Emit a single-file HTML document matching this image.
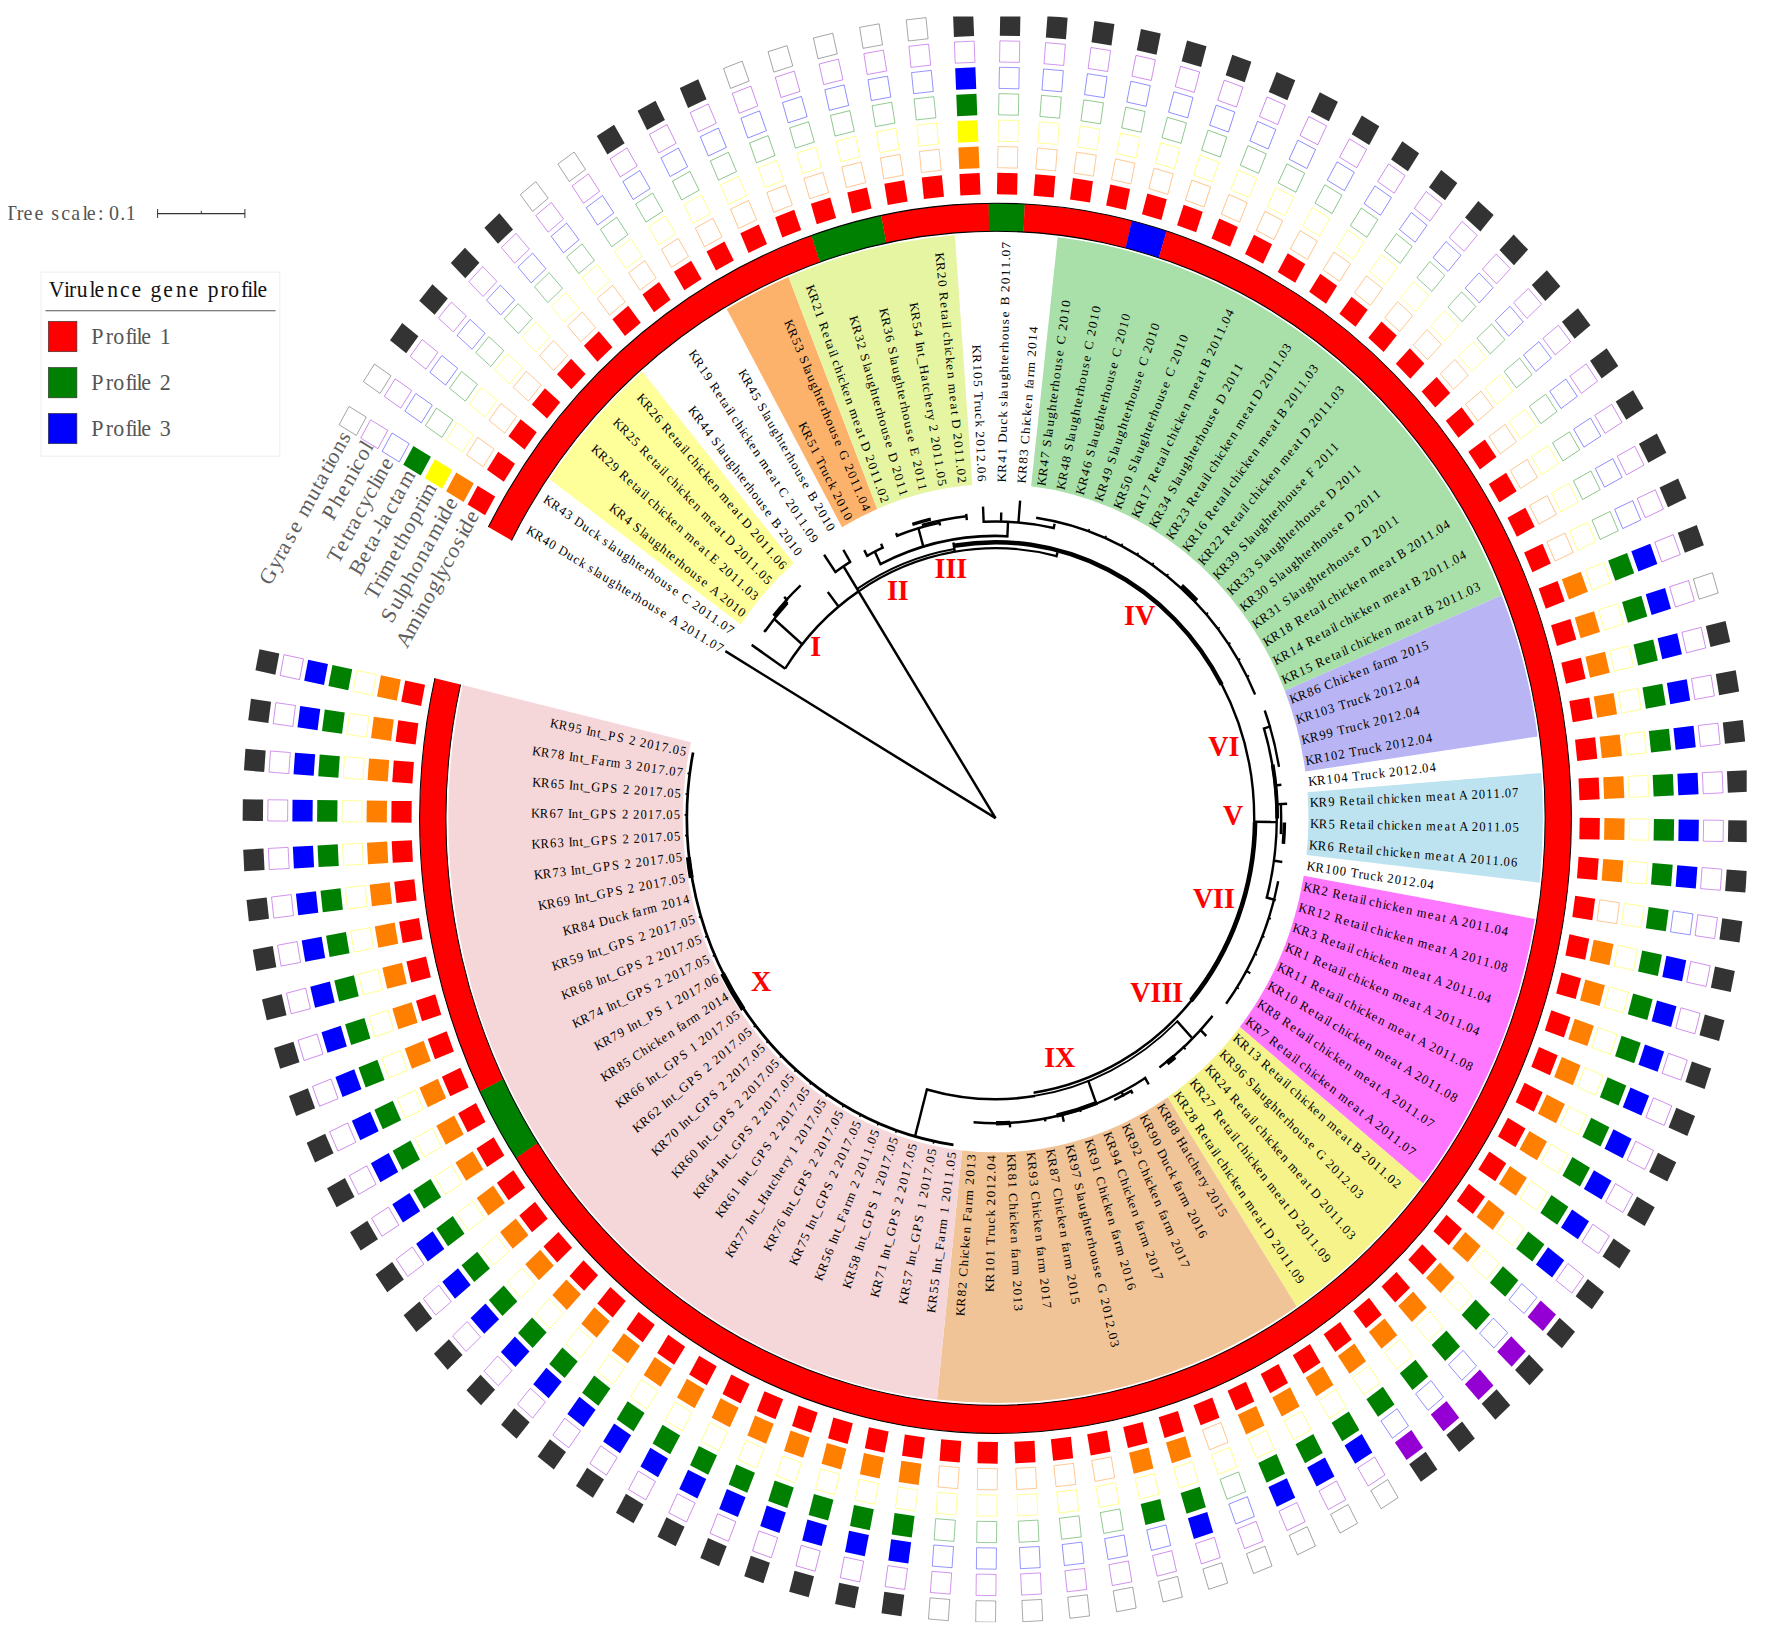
<!DOCTYPE html>
<html lang="en"><head><meta charset="utf-8"><title>Phylogenetic tree</title>
<style>html,body{margin:0;padding:0;background:#fff}body{width:1770px;height:1638px;overflow:hidden}</style></head>
<body>
<svg width="1770" height="1638" viewBox="0 0 1770 1533.56" preserveAspectRatio="none" style="display:block">
<rect width="1770" height="1533.56" fill="#fff"/>
<g id="ranges">
<path d="M740.74 584.68L549.6 448.66A547.4 547.4 0 0 1 642.33 347.89L793.73 527.09A312.8 312.8 0 0 0 740.74 584.68Z" fill="#ffff99"/>
<path d="M841.97 493.56L726.76 289.2A547.4 547.4 0 0 1 788.51 259.32L877.26 476.48A312.8 312.8 0 0 0 841.97 493.56Z" fill="#fdb26b"/>
<path d="M877.26 476.48L788.51 259.32A547.4 547.4 0 0 1 954.89 220.15L972.34 454.1A312.8 312.8 0 0 0 877.26 476.48Z" fill="#e6f5a1"/>
<path d="M1031.08 455.25L1057.69 222.17A547.4 547.4 0 0 1 1501.66 557.35L1284.78 646.79A312.8 312.8 0 0 0 1031.08 455.25Z" fill="#a9dfa9"/>
<path d="M1284.78 646.79L1501.66 557.35A547.4 547.4 0 0 1 1537.62 689.49L1305.33 722.29A312.8 312.8 0 0 0 1284.78 646.79Z" fill="#b9b5f5"/>
<path d="M1307.46 741.79L1541.35 723.61A547.4 547.4 0 0 1 1539.66 826.42L1306.49 800.54A312.8 312.8 0 0 0 1307.46 741.79Z" fill="#bde3f0"/>
<path d="M1303.72 819.95L1534.81 860.39A547.4 547.4 0 0 1 1423 1108.06L1239.83 961.47A312.8 312.8 0 0 0 1303.72 819.95Z" fill="#ff77ff"/>
<path d="M1239.83 961.47L1423 1108.06A547.4 547.4 0 0 1 1296.67 1223.2L1167.64 1027.27A312.8 312.8 0 0 0 1239.83 961.47Z" fill="#f5f38a"/>
<path d="M1167.64 1027.27L1296.67 1223.2A547.4 547.4 0 0 1 936.93 1310.28L962.07 1077.03A312.8 312.8 0 0 0 1167.64 1027.27Z" fill="#f1c497"/>
<path d="M962.07 1077.03L936.93 1310.28A547.4 547.4 0 0 1 462.57 641.42L691.01 694.82A312.8 312.8 0 0 0 962.07 1077.03Z" fill="#f5d7d9"/>
</g>
<g id="ring">
<path d="M511.55 505.94L488.38 493.5A575.8 575.8 0 0 1 811.6 220.42L820 245.35A549.5 549.5 0 0 0 511.55 505.94Z" fill="#ff0000"/>
<path d="M819.82 245.41L811.41 220.49A575.8 575.8 0 0 1 881.29 201.69L886.51 227.47A549.5 549.5 0 0 0 819.82 245.41Z" fill="#008000"/>
<path d="M886.32 227.51L881.09 201.73A575.8 575.8 0 0 1 988.84 190.27L989.15 216.57A549.5 549.5 0 0 0 886.32 227.51Z" fill="#ff0000"/>
<path d="M988.96 216.57L988.64 190.28A575.8 575.8 0 0 1 1024.94 190.98L1023.6 217.25A549.5 549.5 0 0 0 988.96 216.57Z" fill="#008000"/>
<path d="M1023.4 217.24L1024.74 190.97A575.8 575.8 0 0 1 1131.96 206.61L1125.73 232.16A549.5 549.5 0 0 0 1023.4 217.24Z" fill="#ff0000"/>
<path d="M1125.55 232.12L1131.76 206.56A575.8 575.8 0 0 1 1166.75 216.26L1158.93 241.37A549.5 549.5 0 0 0 1125.55 232.12Z" fill="#0000ff"/>
<path d="M1158.75 241.31L1166.56 216.2A575.8 575.8 0 1 1 515.71 1084.24L537.63 1069.7A549.5 549.5 0 1 0 1158.75 241.31Z" fill="#ff0000"/>
<path d="M537.74 1069.86L515.82 1084.4A575.8 575.8 0 0 1 479.68 1021.71L503.24 1010.03A549.5 549.5 0 0 0 537.74 1069.86Z" fill="#008000"/>
<path d="M503.33 1010.21L479.77 1021.89A575.8 575.8 0 0 1 434.92 634.95L460.53 640.94A549.5 549.5 0 0 0 503.33 1010.21Z" fill="#ff0000"/>
<path d="M488.38 493.5A575.8 575.8 0 1 1 434.92 634.95M460.53 640.94A549.5 549.5 0 1 0 511.55 505.94" fill="none" stroke="#000" stroke-width="1"/>
</g>
<g id="squares">
<g transform="translate(995.6 766.03) rotate(210.05)">
<rect x="584" y="-10.1" width="20.2" height="20.2" fill="#ff0000"/>
<rect x="608.75" y="-10.1" width="20.2" height="20.2" fill="#ff8000"/>
<rect x="633.5" y="-10.1" width="20.2" height="20.2" fill="#ffff00"/>
<rect x="658.25" y="-10.1" width="20.2" height="20.2" fill="#008000"/>
<rect x="683.2" y="-9.9" width="19.8" height="19.8" fill="none" stroke="#0000ff" stroke-width="0.75" stroke-opacity="0.52"/>
<rect x="707.95" y="-9.9" width="19.8" height="19.8" fill="none" stroke="#9400d3" stroke-width="0.75" stroke-opacity="0.52"/>
<rect x="732.8" y="-9.9" width="19.9" height="19.8" fill="none" stroke="#333333" stroke-width="0.75" stroke-opacity="0.52"/>
</g>
<g transform="translate(995.6 766.03) rotate(213.64)">
<rect x="584" y="-10.1" width="20.2" height="20.2" fill="#ff0000"/>
<rect x="608.95" y="-9.9" width="19.8" height="19.8" fill="none" stroke="#ff8000" stroke-width="0.75" stroke-opacity="0.52"/>
<rect x="633.7" y="-9.9" width="19.8" height="19.8" fill="none" stroke="#ffff00" stroke-width="0.75" stroke-opacity="0.52"/>
<rect x="658.45" y="-9.9" width="19.8" height="19.8" fill="none" stroke="#008000" stroke-width="0.75" stroke-opacity="0.52"/>
<rect x="683.2" y="-9.9" width="19.8" height="19.8" fill="none" stroke="#0000ff" stroke-width="0.75" stroke-opacity="0.52"/>
<rect x="707.95" y="-9.9" width="19.8" height="19.8" fill="none" stroke="#9400d3" stroke-width="0.75" stroke-opacity="0.52"/>
<rect x="732.8" y="-9.9" width="19.9" height="19.8" fill="none" stroke="#333333" stroke-width="0.75" stroke-opacity="0.52"/>
</g>
<g transform="translate(995.6 766.03) rotate(217.23)">
<rect x="584" y="-10.1" width="20.2" height="20.2" fill="#ff0000"/>
<rect x="608.95" y="-9.9" width="19.8" height="19.8" fill="none" stroke="#ff8000" stroke-width="0.75" stroke-opacity="0.52"/>
<rect x="633.7" y="-9.9" width="19.8" height="19.8" fill="none" stroke="#ffff00" stroke-width="0.75" stroke-opacity="0.52"/>
<rect x="658.45" y="-9.9" width="19.8" height="19.8" fill="none" stroke="#008000" stroke-width="0.75" stroke-opacity="0.52"/>
<rect x="683.2" y="-9.9" width="19.8" height="19.8" fill="none" stroke="#0000ff" stroke-width="0.75" stroke-opacity="0.52"/>
<rect x="707.95" y="-9.9" width="19.8" height="19.8" fill="none" stroke="#9400d3" stroke-width="0.75" stroke-opacity="0.52"/>
<rect x="732.6" y="-10.1" width="20.3" height="20.2" fill="#333333"/>
</g>
<g transform="translate(995.6 766.03) rotate(220.82)">
<rect x="584" y="-10.1" width="20.2" height="20.2" fill="#ff0000"/>
<rect x="608.95" y="-9.9" width="19.8" height="19.8" fill="none" stroke="#ff8000" stroke-width="0.75" stroke-opacity="0.52"/>
<rect x="633.7" y="-9.9" width="19.8" height="19.8" fill="none" stroke="#ffff00" stroke-width="0.75" stroke-opacity="0.52"/>
<rect x="658.45" y="-9.9" width="19.8" height="19.8" fill="none" stroke="#008000" stroke-width="0.75" stroke-opacity="0.52"/>
<rect x="683.2" y="-9.9" width="19.8" height="19.8" fill="none" stroke="#0000ff" stroke-width="0.75" stroke-opacity="0.52"/>
<rect x="707.95" y="-9.9" width="19.8" height="19.8" fill="none" stroke="#9400d3" stroke-width="0.75" stroke-opacity="0.52"/>
<rect x="732.6" y="-10.1" width="20.3" height="20.2" fill="#333333"/>
</g>
<g transform="translate(995.6 766.03) rotate(224.42)">
<rect x="584" y="-10.1" width="20.2" height="20.2" fill="#ff0000"/>
<rect x="608.95" y="-9.9" width="19.8" height="19.8" fill="none" stroke="#ff8000" stroke-width="0.75" stroke-opacity="0.52"/>
<rect x="633.7" y="-9.9" width="19.8" height="19.8" fill="none" stroke="#ffff00" stroke-width="0.75" stroke-opacity="0.52"/>
<rect x="658.45" y="-9.9" width="19.8" height="19.8" fill="none" stroke="#008000" stroke-width="0.75" stroke-opacity="0.52"/>
<rect x="683.2" y="-9.9" width="19.8" height="19.8" fill="none" stroke="#0000ff" stroke-width="0.75" stroke-opacity="0.52"/>
<rect x="707.95" y="-9.9" width="19.8" height="19.8" fill="none" stroke="#9400d3" stroke-width="0.75" stroke-opacity="0.52"/>
<rect x="732.6" y="-10.1" width="20.3" height="20.2" fill="#333333"/>
</g>
<g transform="translate(995.6 766.03) rotate(228.01)">
<rect x="584" y="-10.1" width="20.2" height="20.2" fill="#ff0000"/>
<rect x="608.95" y="-9.9" width="19.8" height="19.8" fill="none" stroke="#ff8000" stroke-width="0.75" stroke-opacity="0.52"/>
<rect x="633.7" y="-9.9" width="19.8" height="19.8" fill="none" stroke="#ffff00" stroke-width="0.75" stroke-opacity="0.52"/>
<rect x="658.45" y="-9.9" width="19.8" height="19.8" fill="none" stroke="#008000" stroke-width="0.75" stroke-opacity="0.52"/>
<rect x="683.2" y="-9.9" width="19.8" height="19.8" fill="none" stroke="#0000ff" stroke-width="0.75" stroke-opacity="0.52"/>
<rect x="707.95" y="-9.9" width="19.8" height="19.8" fill="none" stroke="#9400d3" stroke-width="0.75" stroke-opacity="0.52"/>
<rect x="732.6" y="-10.1" width="20.3" height="20.2" fill="#333333"/>
</g>
<g transform="translate(995.6 766.03) rotate(231.6)">
<rect x="584" y="-10.1" width="20.2" height="20.2" fill="#ff0000"/>
<rect x="608.95" y="-9.9" width="19.8" height="19.8" fill="none" stroke="#ff8000" stroke-width="0.75" stroke-opacity="0.52"/>
<rect x="633.7" y="-9.9" width="19.8" height="19.8" fill="none" stroke="#ffff00" stroke-width="0.75" stroke-opacity="0.52"/>
<rect x="658.45" y="-9.9" width="19.8" height="19.8" fill="none" stroke="#008000" stroke-width="0.75" stroke-opacity="0.52"/>
<rect x="683.2" y="-9.9" width="19.8" height="19.8" fill="none" stroke="#0000ff" stroke-width="0.75" stroke-opacity="0.52"/>
<rect x="707.95" y="-9.9" width="19.8" height="19.8" fill="none" stroke="#9400d3" stroke-width="0.75" stroke-opacity="0.52"/>
<rect x="732.8" y="-9.9" width="19.9" height="19.8" fill="none" stroke="#333333" stroke-width="0.75" stroke-opacity="0.52"/>
</g>
<g transform="translate(995.6 766.03) rotate(235.2)">
<rect x="584" y="-10.1" width="20.2" height="20.2" fill="#ff0000"/>
<rect x="608.95" y="-9.9" width="19.8" height="19.8" fill="none" stroke="#ff8000" stroke-width="0.75" stroke-opacity="0.52"/>
<rect x="633.7" y="-9.9" width="19.8" height="19.8" fill="none" stroke="#ffff00" stroke-width="0.75" stroke-opacity="0.52"/>
<rect x="658.45" y="-9.9" width="19.8" height="19.8" fill="none" stroke="#008000" stroke-width="0.75" stroke-opacity="0.52"/>
<rect x="683.2" y="-9.9" width="19.8" height="19.8" fill="none" stroke="#0000ff" stroke-width="0.75" stroke-opacity="0.52"/>
<rect x="707.95" y="-9.9" width="19.8" height="19.8" fill="none" stroke="#9400d3" stroke-width="0.75" stroke-opacity="0.52"/>
<rect x="732.8" y="-9.9" width="19.9" height="19.8" fill="none" stroke="#333333" stroke-width="0.75" stroke-opacity="0.52"/>
</g>
<g transform="translate(995.6 766.03) rotate(238.79)">
<rect x="584" y="-10.1" width="20.2" height="20.2" fill="#ff0000"/>
<rect x="608.95" y="-9.9" width="19.8" height="19.8" fill="none" stroke="#ff8000" stroke-width="0.75" stroke-opacity="0.52"/>
<rect x="633.7" y="-9.9" width="19.8" height="19.8" fill="none" stroke="#ffff00" stroke-width="0.75" stroke-opacity="0.52"/>
<rect x="658.45" y="-9.9" width="19.8" height="19.8" fill="none" stroke="#008000" stroke-width="0.75" stroke-opacity="0.52"/>
<rect x="683.2" y="-9.9" width="19.8" height="19.8" fill="none" stroke="#0000ff" stroke-width="0.75" stroke-opacity="0.52"/>
<rect x="707.95" y="-9.9" width="19.8" height="19.8" fill="none" stroke="#9400d3" stroke-width="0.75" stroke-opacity="0.52"/>
<rect x="732.6" y="-10.1" width="20.3" height="20.2" fill="#333333"/>
</g>
<g transform="translate(995.6 766.03) rotate(242.38)">
<rect x="584" y="-10.1" width="20.2" height="20.2" fill="#ff0000"/>
<rect x="608.95" y="-9.9" width="19.8" height="19.8" fill="none" stroke="#ff8000" stroke-width="0.75" stroke-opacity="0.52"/>
<rect x="633.7" y="-9.9" width="19.8" height="19.8" fill="none" stroke="#ffff00" stroke-width="0.75" stroke-opacity="0.52"/>
<rect x="658.45" y="-9.9" width="19.8" height="19.8" fill="none" stroke="#008000" stroke-width="0.75" stroke-opacity="0.52"/>
<rect x="683.2" y="-9.9" width="19.8" height="19.8" fill="none" stroke="#0000ff" stroke-width="0.75" stroke-opacity="0.52"/>
<rect x="707.95" y="-9.9" width="19.8" height="19.8" fill="none" stroke="#9400d3" stroke-width="0.75" stroke-opacity="0.52"/>
<rect x="732.6" y="-10.1" width="20.3" height="20.2" fill="#333333"/>
</g>
<g transform="translate(995.6 766.03) rotate(245.97)">
<rect x="584" y="-10.1" width="20.2" height="20.2" fill="#ff0000"/>
<rect x="608.95" y="-9.9" width="19.8" height="19.8" fill="none" stroke="#ff8000" stroke-width="0.75" stroke-opacity="0.52"/>
<rect x="633.7" y="-9.9" width="19.8" height="19.8" fill="none" stroke="#ffff00" stroke-width="0.75" stroke-opacity="0.52"/>
<rect x="658.45" y="-9.9" width="19.8" height="19.8" fill="none" stroke="#008000" stroke-width="0.75" stroke-opacity="0.52"/>
<rect x="683.2" y="-9.9" width="19.8" height="19.8" fill="none" stroke="#0000ff" stroke-width="0.75" stroke-opacity="0.52"/>
<rect x="707.95" y="-9.9" width="19.8" height="19.8" fill="none" stroke="#9400d3" stroke-width="0.75" stroke-opacity="0.52"/>
<rect x="732.6" y="-10.1" width="20.3" height="20.2" fill="#333333"/>
</g>
<g transform="translate(995.6 766.03) rotate(249.57)">
<rect x="584" y="-10.1" width="20.2" height="20.2" fill="#ff0000"/>
<rect x="608.95" y="-9.9" width="19.8" height="19.8" fill="none" stroke="#ff8000" stroke-width="0.75" stroke-opacity="0.52"/>
<rect x="633.7" y="-9.9" width="19.8" height="19.8" fill="none" stroke="#ffff00" stroke-width="0.75" stroke-opacity="0.52"/>
<rect x="658.45" y="-9.9" width="19.8" height="19.8" fill="none" stroke="#008000" stroke-width="0.75" stroke-opacity="0.52"/>
<rect x="683.2" y="-9.9" width="19.8" height="19.8" fill="none" stroke="#0000ff" stroke-width="0.75" stroke-opacity="0.52"/>
<rect x="707.95" y="-9.9" width="19.8" height="19.8" fill="none" stroke="#9400d3" stroke-width="0.75" stroke-opacity="0.52"/>
<rect x="732.8" y="-9.9" width="19.9" height="19.8" fill="none" stroke="#333333" stroke-width="0.75" stroke-opacity="0.52"/>
</g>
<g transform="translate(995.6 766.03) rotate(253.16)">
<rect x="584" y="-10.1" width="20.2" height="20.2" fill="#ff0000"/>
<rect x="608.95" y="-9.9" width="19.8" height="19.8" fill="none" stroke="#ff8000" stroke-width="0.75" stroke-opacity="0.52"/>
<rect x="633.7" y="-9.9" width="19.8" height="19.8" fill="none" stroke="#ffff00" stroke-width="0.75" stroke-opacity="0.52"/>
<rect x="658.45" y="-9.9" width="19.8" height="19.8" fill="none" stroke="#008000" stroke-width="0.75" stroke-opacity="0.52"/>
<rect x="683.2" y="-9.9" width="19.8" height="19.8" fill="none" stroke="#0000ff" stroke-width="0.75" stroke-opacity="0.52"/>
<rect x="707.95" y="-9.9" width="19.8" height="19.8" fill="none" stroke="#9400d3" stroke-width="0.75" stroke-opacity="0.52"/>
<rect x="732.8" y="-9.9" width="19.9" height="19.8" fill="none" stroke="#333333" stroke-width="0.75" stroke-opacity="0.52"/>
</g>
<g transform="translate(995.6 766.03) rotate(256.75)">
<rect x="584" y="-10.1" width="20.2" height="20.2" fill="#ff0000"/>
<rect x="608.95" y="-9.9" width="19.8" height="19.8" fill="none" stroke="#ff8000" stroke-width="0.75" stroke-opacity="0.52"/>
<rect x="633.7" y="-9.9" width="19.8" height="19.8" fill="none" stroke="#ffff00" stroke-width="0.75" stroke-opacity="0.52"/>
<rect x="658.45" y="-9.9" width="19.8" height="19.8" fill="none" stroke="#008000" stroke-width="0.75" stroke-opacity="0.52"/>
<rect x="683.2" y="-9.9" width="19.8" height="19.8" fill="none" stroke="#0000ff" stroke-width="0.75" stroke-opacity="0.52"/>
<rect x="707.95" y="-9.9" width="19.8" height="19.8" fill="none" stroke="#9400d3" stroke-width="0.75" stroke-opacity="0.52"/>
<rect x="732.8" y="-9.9" width="19.9" height="19.8" fill="none" stroke="#333333" stroke-width="0.75" stroke-opacity="0.52"/>
</g>
<g transform="translate(995.6 766.03) rotate(260.35)">
<rect x="584" y="-10.1" width="20.2" height="20.2" fill="#ff0000"/>
<rect x="608.95" y="-9.9" width="19.8" height="19.8" fill="none" stroke="#ff8000" stroke-width="0.75" stroke-opacity="0.52"/>
<rect x="633.7" y="-9.9" width="19.8" height="19.8" fill="none" stroke="#ffff00" stroke-width="0.75" stroke-opacity="0.52"/>
<rect x="658.45" y="-9.9" width="19.8" height="19.8" fill="none" stroke="#008000" stroke-width="0.75" stroke-opacity="0.52"/>
<rect x="683.2" y="-9.9" width="19.8" height="19.8" fill="none" stroke="#0000ff" stroke-width="0.75" stroke-opacity="0.52"/>
<rect x="707.95" y="-9.9" width="19.8" height="19.8" fill="none" stroke="#9400d3" stroke-width="0.75" stroke-opacity="0.52"/>
<rect x="732.8" y="-9.9" width="19.9" height="19.8" fill="none" stroke="#333333" stroke-width="0.75" stroke-opacity="0.52"/>
</g>
<g transform="translate(995.6 766.03) rotate(263.94)">
<rect x="584" y="-10.1" width="20.2" height="20.2" fill="#ff0000"/>
<rect x="608.95" y="-9.9" width="19.8" height="19.8" fill="none" stroke="#ff8000" stroke-width="0.75" stroke-opacity="0.52"/>
<rect x="633.7" y="-9.9" width="19.8" height="19.8" fill="none" stroke="#ffff00" stroke-width="0.75" stroke-opacity="0.52"/>
<rect x="658.45" y="-9.9" width="19.8" height="19.8" fill="none" stroke="#008000" stroke-width="0.75" stroke-opacity="0.52"/>
<rect x="683.2" y="-9.9" width="19.8" height="19.8" fill="none" stroke="#0000ff" stroke-width="0.75" stroke-opacity="0.52"/>
<rect x="707.95" y="-9.9" width="19.8" height="19.8" fill="none" stroke="#9400d3" stroke-width="0.75" stroke-opacity="0.52"/>
<rect x="732.8" y="-9.9" width="19.9" height="19.8" fill="none" stroke="#333333" stroke-width="0.75" stroke-opacity="0.52"/>
</g>
<g transform="translate(995.6 766.03) rotate(267.53)">
<rect x="584" y="-10.1" width="20.2" height="20.2" fill="#ff0000"/>
<rect x="608.75" y="-10.1" width="20.2" height="20.2" fill="#ff8000"/>
<rect x="633.5" y="-10.1" width="20.2" height="20.2" fill="#ffff00"/>
<rect x="658.25" y="-10.1" width="20.2" height="20.2" fill="#008000"/>
<rect x="683" y="-10.1" width="20.2" height="20.2" fill="#0000ff"/>
<rect x="707.95" y="-9.9" width="19.8" height="19.8" fill="none" stroke="#9400d3" stroke-width="0.75" stroke-opacity="0.52"/>
<rect x="732.6" y="-10.1" width="20.3" height="20.2" fill="#333333"/>
</g>
<g transform="translate(995.6 766.03) rotate(271.12)">
<rect x="584" y="-10.1" width="20.2" height="20.2" fill="#ff0000"/>
<rect x="608.95" y="-9.9" width="19.8" height="19.8" fill="none" stroke="#ff8000" stroke-width="0.75" stroke-opacity="0.52"/>
<rect x="633.7" y="-9.9" width="19.8" height="19.8" fill="none" stroke="#ffff00" stroke-width="0.75" stroke-opacity="0.52"/>
<rect x="658.45" y="-9.9" width="19.8" height="19.8" fill="none" stroke="#008000" stroke-width="0.75" stroke-opacity="0.52"/>
<rect x="683.2" y="-9.9" width="19.8" height="19.8" fill="none" stroke="#0000ff" stroke-width="0.75" stroke-opacity="0.52"/>
<rect x="707.95" y="-9.9" width="19.8" height="19.8" fill="none" stroke="#9400d3" stroke-width="0.75" stroke-opacity="0.52"/>
<rect x="732.6" y="-10.1" width="20.3" height="20.2" fill="#333333"/>
</g>
<g transform="translate(995.6 766.03) rotate(274.72)">
<rect x="584" y="-10.1" width="20.2" height="20.2" fill="#ff0000"/>
<rect x="608.95" y="-9.9" width="19.8" height="19.8" fill="none" stroke="#ff8000" stroke-width="0.75" stroke-opacity="0.52"/>
<rect x="633.7" y="-9.9" width="19.8" height="19.8" fill="none" stroke="#ffff00" stroke-width="0.75" stroke-opacity="0.52"/>
<rect x="658.45" y="-9.9" width="19.8" height="19.8" fill="none" stroke="#008000" stroke-width="0.75" stroke-opacity="0.52"/>
<rect x="683.2" y="-9.9" width="19.8" height="19.8" fill="none" stroke="#0000ff" stroke-width="0.75" stroke-opacity="0.52"/>
<rect x="707.95" y="-9.9" width="19.8" height="19.8" fill="none" stroke="#9400d3" stroke-width="0.75" stroke-opacity="0.52"/>
<rect x="732.6" y="-10.1" width="20.3" height="20.2" fill="#333333"/>
</g>
<g transform="translate(995.6 766.03) rotate(278.31)">
<rect x="584" y="-10.1" width="20.2" height="20.2" fill="#ff0000"/>
<rect x="608.95" y="-9.9" width="19.8" height="19.8" fill="none" stroke="#ff8000" stroke-width="0.75" stroke-opacity="0.52"/>
<rect x="633.7" y="-9.9" width="19.8" height="19.8" fill="none" stroke="#ffff00" stroke-width="0.75" stroke-opacity="0.52"/>
<rect x="658.45" y="-9.9" width="19.8" height="19.8" fill="none" stroke="#008000" stroke-width="0.75" stroke-opacity="0.52"/>
<rect x="683.2" y="-9.9" width="19.8" height="19.8" fill="none" stroke="#0000ff" stroke-width="0.75" stroke-opacity="0.52"/>
<rect x="707.95" y="-9.9" width="19.8" height="19.8" fill="none" stroke="#9400d3" stroke-width="0.75" stroke-opacity="0.52"/>
<rect x="732.6" y="-10.1" width="20.3" height="20.2" fill="#333333"/>
</g>
<g transform="translate(995.6 766.03) rotate(281.9)">
<rect x="584" y="-10.1" width="20.2" height="20.2" fill="#ff0000"/>
<rect x="608.95" y="-9.9" width="19.8" height="19.8" fill="none" stroke="#ff8000" stroke-width="0.75" stroke-opacity="0.52"/>
<rect x="633.7" y="-9.9" width="19.8" height="19.8" fill="none" stroke="#ffff00" stroke-width="0.75" stroke-opacity="0.52"/>
<rect x="658.45" y="-9.9" width="19.8" height="19.8" fill="none" stroke="#008000" stroke-width="0.75" stroke-opacity="0.52"/>
<rect x="683.2" y="-9.9" width="19.8" height="19.8" fill="none" stroke="#0000ff" stroke-width="0.75" stroke-opacity="0.52"/>
<rect x="707.95" y="-9.9" width="19.8" height="19.8" fill="none" stroke="#9400d3" stroke-width="0.75" stroke-opacity="0.52"/>
<rect x="732.6" y="-10.1" width="20.3" height="20.2" fill="#333333"/>
</g>
<g transform="translate(995.6 766.03) rotate(285.5)">
<rect x="584" y="-10.1" width="20.2" height="20.2" fill="#ff0000"/>
<rect x="608.95" y="-9.9" width="19.8" height="19.8" fill="none" stroke="#ff8000" stroke-width="0.75" stroke-opacity="0.52"/>
<rect x="633.7" y="-9.9" width="19.8" height="19.8" fill="none" stroke="#ffff00" stroke-width="0.75" stroke-opacity="0.52"/>
<rect x="658.45" y="-9.9" width="19.8" height="19.8" fill="none" stroke="#008000" stroke-width="0.75" stroke-opacity="0.52"/>
<rect x="683.2" y="-9.9" width="19.8" height="19.8" fill="none" stroke="#0000ff" stroke-width="0.75" stroke-opacity="0.52"/>
<rect x="707.95" y="-9.9" width="19.8" height="19.8" fill="none" stroke="#9400d3" stroke-width="0.75" stroke-opacity="0.52"/>
<rect x="732.6" y="-10.1" width="20.3" height="20.2" fill="#333333"/>
</g>
<g transform="translate(995.6 766.03) rotate(289.09)">
<rect x="584" y="-10.1" width="20.2" height="20.2" fill="#ff0000"/>
<rect x="608.95" y="-9.9" width="19.8" height="19.8" fill="none" stroke="#ff8000" stroke-width="0.75" stroke-opacity="0.52"/>
<rect x="633.7" y="-9.9" width="19.8" height="19.8" fill="none" stroke="#ffff00" stroke-width="0.75" stroke-opacity="0.52"/>
<rect x="658.45" y="-9.9" width="19.8" height="19.8" fill="none" stroke="#008000" stroke-width="0.75" stroke-opacity="0.52"/>
<rect x="683.2" y="-9.9" width="19.8" height="19.8" fill="none" stroke="#0000ff" stroke-width="0.75" stroke-opacity="0.52"/>
<rect x="707.95" y="-9.9" width="19.8" height="19.8" fill="none" stroke="#9400d3" stroke-width="0.75" stroke-opacity="0.52"/>
<rect x="732.6" y="-10.1" width="20.3" height="20.2" fill="#333333"/>
</g>
<g transform="translate(995.6 766.03) rotate(292.68)">
<rect x="584" y="-10.1" width="20.2" height="20.2" fill="#ff0000"/>
<rect x="608.95" y="-9.9" width="19.8" height="19.8" fill="none" stroke="#ff8000" stroke-width="0.75" stroke-opacity="0.52"/>
<rect x="633.7" y="-9.9" width="19.8" height="19.8" fill="none" stroke="#ffff00" stroke-width="0.75" stroke-opacity="0.52"/>
<rect x="658.45" y="-9.9" width="19.8" height="19.8" fill="none" stroke="#008000" stroke-width="0.75" stroke-opacity="0.52"/>
<rect x="683.2" y="-9.9" width="19.8" height="19.8" fill="none" stroke="#0000ff" stroke-width="0.75" stroke-opacity="0.52"/>
<rect x="707.95" y="-9.9" width="19.8" height="19.8" fill="none" stroke="#9400d3" stroke-width="0.75" stroke-opacity="0.52"/>
<rect x="732.6" y="-10.1" width="20.3" height="20.2" fill="#333333"/>
</g>
<g transform="translate(995.6 766.03) rotate(296.27)">
<rect x="584" y="-10.1" width="20.2" height="20.2" fill="#ff0000"/>
<rect x="608.95" y="-9.9" width="19.8" height="19.8" fill="none" stroke="#ff8000" stroke-width="0.75" stroke-opacity="0.52"/>
<rect x="633.7" y="-9.9" width="19.8" height="19.8" fill="none" stroke="#ffff00" stroke-width="0.75" stroke-opacity="0.52"/>
<rect x="658.45" y="-9.9" width="19.8" height="19.8" fill="none" stroke="#008000" stroke-width="0.75" stroke-opacity="0.52"/>
<rect x="683.2" y="-9.9" width="19.8" height="19.8" fill="none" stroke="#0000ff" stroke-width="0.75" stroke-opacity="0.52"/>
<rect x="707.95" y="-9.9" width="19.8" height="19.8" fill="none" stroke="#9400d3" stroke-width="0.75" stroke-opacity="0.52"/>
<rect x="732.6" y="-10.1" width="20.3" height="20.2" fill="#333333"/>
</g>
<g transform="translate(995.6 766.03) rotate(299.87)">
<rect x="584" y="-10.1" width="20.2" height="20.2" fill="#ff0000"/>
<rect x="608.95" y="-9.9" width="19.8" height="19.8" fill="none" stroke="#ff8000" stroke-width="0.75" stroke-opacity="0.52"/>
<rect x="633.7" y="-9.9" width="19.8" height="19.8" fill="none" stroke="#ffff00" stroke-width="0.75" stroke-opacity="0.52"/>
<rect x="658.45" y="-9.9" width="19.8" height="19.8" fill="none" stroke="#008000" stroke-width="0.75" stroke-opacity="0.52"/>
<rect x="683.2" y="-9.9" width="19.8" height="19.8" fill="none" stroke="#0000ff" stroke-width="0.75" stroke-opacity="0.52"/>
<rect x="707.95" y="-9.9" width="19.8" height="19.8" fill="none" stroke="#9400d3" stroke-width="0.75" stroke-opacity="0.52"/>
<rect x="732.6" y="-10.1" width="20.3" height="20.2" fill="#333333"/>
</g>
<g transform="translate(995.6 766.03) rotate(303.46)">
<rect x="584" y="-10.1" width="20.2" height="20.2" fill="#ff0000"/>
<rect x="608.95" y="-9.9" width="19.8" height="19.8" fill="none" stroke="#ff8000" stroke-width="0.75" stroke-opacity="0.52"/>
<rect x="633.7" y="-9.9" width="19.8" height="19.8" fill="none" stroke="#ffff00" stroke-width="0.75" stroke-opacity="0.52"/>
<rect x="658.45" y="-9.9" width="19.8" height="19.8" fill="none" stroke="#008000" stroke-width="0.75" stroke-opacity="0.52"/>
<rect x="683.2" y="-9.9" width="19.8" height="19.8" fill="none" stroke="#0000ff" stroke-width="0.75" stroke-opacity="0.52"/>
<rect x="707.95" y="-9.9" width="19.8" height="19.8" fill="none" stroke="#9400d3" stroke-width="0.75" stroke-opacity="0.52"/>
<rect x="732.6" y="-10.1" width="20.3" height="20.2" fill="#333333"/>
</g>
<g transform="translate(995.6 766.03) rotate(307.05)">
<rect x="584" y="-10.1" width="20.2" height="20.2" fill="#ff0000"/>
<rect x="608.95" y="-9.9" width="19.8" height="19.8" fill="none" stroke="#ff8000" stroke-width="0.75" stroke-opacity="0.52"/>
<rect x="633.7" y="-9.9" width="19.8" height="19.8" fill="none" stroke="#ffff00" stroke-width="0.75" stroke-opacity="0.52"/>
<rect x="658.45" y="-9.9" width="19.8" height="19.8" fill="none" stroke="#008000" stroke-width="0.75" stroke-opacity="0.52"/>
<rect x="683.2" y="-9.9" width="19.8" height="19.8" fill="none" stroke="#0000ff" stroke-width="0.75" stroke-opacity="0.52"/>
<rect x="707.95" y="-9.9" width="19.8" height="19.8" fill="none" stroke="#9400d3" stroke-width="0.75" stroke-opacity="0.52"/>
<rect x="732.6" y="-10.1" width="20.3" height="20.2" fill="#333333"/>
</g>
<g transform="translate(995.6 766.03) rotate(310.64)">
<rect x="584" y="-10.1" width="20.2" height="20.2" fill="#ff0000"/>
<rect x="608.95" y="-9.9" width="19.8" height="19.8" fill="none" stroke="#ff8000" stroke-width="0.75" stroke-opacity="0.52"/>
<rect x="633.7" y="-9.9" width="19.8" height="19.8" fill="none" stroke="#ffff00" stroke-width="0.75" stroke-opacity="0.52"/>
<rect x="658.45" y="-9.9" width="19.8" height="19.8" fill="none" stroke="#008000" stroke-width="0.75" stroke-opacity="0.52"/>
<rect x="683.2" y="-9.9" width="19.8" height="19.8" fill="none" stroke="#0000ff" stroke-width="0.75" stroke-opacity="0.52"/>
<rect x="707.95" y="-9.9" width="19.8" height="19.8" fill="none" stroke="#9400d3" stroke-width="0.75" stroke-opacity="0.52"/>
<rect x="732.6" y="-10.1" width="20.3" height="20.2" fill="#333333"/>
</g>
<g transform="translate(995.6 766.03) rotate(314.24)">
<rect x="584" y="-10.1" width="20.2" height="20.2" fill="#ff0000"/>
<rect x="608.95" y="-9.9" width="19.8" height="19.8" fill="none" stroke="#ff8000" stroke-width="0.75" stroke-opacity="0.52"/>
<rect x="633.7" y="-9.9" width="19.8" height="19.8" fill="none" stroke="#ffff00" stroke-width="0.75" stroke-opacity="0.52"/>
<rect x="658.45" y="-9.9" width="19.8" height="19.8" fill="none" stroke="#008000" stroke-width="0.75" stroke-opacity="0.52"/>
<rect x="683.2" y="-9.9" width="19.8" height="19.8" fill="none" stroke="#0000ff" stroke-width="0.75" stroke-opacity="0.52"/>
<rect x="707.95" y="-9.9" width="19.8" height="19.8" fill="none" stroke="#9400d3" stroke-width="0.75" stroke-opacity="0.52"/>
<rect x="732.6" y="-10.1" width="20.3" height="20.2" fill="#333333"/>
</g>
<g transform="translate(995.6 766.03) rotate(317.83)">
<rect x="584" y="-10.1" width="20.2" height="20.2" fill="#ff0000"/>
<rect x="608.95" y="-9.9" width="19.8" height="19.8" fill="none" stroke="#ff8000" stroke-width="0.75" stroke-opacity="0.52"/>
<rect x="633.7" y="-9.9" width="19.8" height="19.8" fill="none" stroke="#ffff00" stroke-width="0.75" stroke-opacity="0.52"/>
<rect x="658.45" y="-9.9" width="19.8" height="19.8" fill="none" stroke="#008000" stroke-width="0.75" stroke-opacity="0.52"/>
<rect x="683.2" y="-9.9" width="19.8" height="19.8" fill="none" stroke="#0000ff" stroke-width="0.75" stroke-opacity="0.52"/>
<rect x="707.95" y="-9.9" width="19.8" height="19.8" fill="none" stroke="#9400d3" stroke-width="0.75" stroke-opacity="0.52"/>
<rect x="732.6" y="-10.1" width="20.3" height="20.2" fill="#333333"/>
</g>
<g transform="translate(995.6 766.03) rotate(321.42)">
<rect x="584" y="-10.1" width="20.2" height="20.2" fill="#ff0000"/>
<rect x="608.95" y="-9.9" width="19.8" height="19.8" fill="none" stroke="#ff8000" stroke-width="0.75" stroke-opacity="0.52"/>
<rect x="633.7" y="-9.9" width="19.8" height="19.8" fill="none" stroke="#ffff00" stroke-width="0.75" stroke-opacity="0.52"/>
<rect x="658.45" y="-9.9" width="19.8" height="19.8" fill="none" stroke="#008000" stroke-width="0.75" stroke-opacity="0.52"/>
<rect x="683.2" y="-9.9" width="19.8" height="19.8" fill="none" stroke="#0000ff" stroke-width="0.75" stroke-opacity="0.52"/>
<rect x="707.95" y="-9.9" width="19.8" height="19.8" fill="none" stroke="#9400d3" stroke-width="0.75" stroke-opacity="0.52"/>
<rect x="732.6" y="-10.1" width="20.3" height="20.2" fill="#333333"/>
</g>
<g transform="translate(995.6 766.03) rotate(325.02)">
<rect x="584" y="-10.1" width="20.2" height="20.2" fill="#ff0000"/>
<rect x="608.95" y="-9.9" width="19.8" height="19.8" fill="none" stroke="#ff8000" stroke-width="0.75" stroke-opacity="0.52"/>
<rect x="633.7" y="-9.9" width="19.8" height="19.8" fill="none" stroke="#ffff00" stroke-width="0.75" stroke-opacity="0.52"/>
<rect x="658.45" y="-9.9" width="19.8" height="19.8" fill="none" stroke="#008000" stroke-width="0.75" stroke-opacity="0.52"/>
<rect x="683.2" y="-9.9" width="19.8" height="19.8" fill="none" stroke="#0000ff" stroke-width="0.75" stroke-opacity="0.52"/>
<rect x="707.95" y="-9.9" width="19.8" height="19.8" fill="none" stroke="#9400d3" stroke-width="0.75" stroke-opacity="0.52"/>
<rect x="732.6" y="-10.1" width="20.3" height="20.2" fill="#333333"/>
</g>
<g transform="translate(995.6 766.03) rotate(328.61)">
<rect x="584" y="-10.1" width="20.2" height="20.2" fill="#ff0000"/>
<rect x="608.95" y="-9.9" width="19.8" height="19.8" fill="none" stroke="#ff8000" stroke-width="0.75" stroke-opacity="0.52"/>
<rect x="633.7" y="-9.9" width="19.8" height="19.8" fill="none" stroke="#ffff00" stroke-width="0.75" stroke-opacity="0.52"/>
<rect x="658.45" y="-9.9" width="19.8" height="19.8" fill="none" stroke="#008000" stroke-width="0.75" stroke-opacity="0.52"/>
<rect x="683.2" y="-9.9" width="19.8" height="19.8" fill="none" stroke="#0000ff" stroke-width="0.75" stroke-opacity="0.52"/>
<rect x="707.95" y="-9.9" width="19.8" height="19.8" fill="none" stroke="#9400d3" stroke-width="0.75" stroke-opacity="0.52"/>
<rect x="732.6" y="-10.1" width="20.3" height="20.2" fill="#333333"/>
</g>
<g transform="translate(995.6 766.03) rotate(332.2)">
<rect x="584" y="-10.1" width="20.2" height="20.2" fill="#ff0000"/>
<rect x="608.95" y="-9.9" width="19.8" height="19.8" fill="none" stroke="#ff8000" stroke-width="0.75" stroke-opacity="0.52"/>
<rect x="633.7" y="-9.9" width="19.8" height="19.8" fill="none" stroke="#ffff00" stroke-width="0.75" stroke-opacity="0.52"/>
<rect x="658.45" y="-9.9" width="19.8" height="19.8" fill="none" stroke="#008000" stroke-width="0.75" stroke-opacity="0.52"/>
<rect x="683.2" y="-9.9" width="19.8" height="19.8" fill="none" stroke="#0000ff" stroke-width="0.75" stroke-opacity="0.52"/>
<rect x="707.95" y="-9.9" width="19.8" height="19.8" fill="none" stroke="#9400d3" stroke-width="0.75" stroke-opacity="0.52"/>
<rect x="732.6" y="-10.1" width="20.3" height="20.2" fill="#333333"/>
</g>
<g transform="translate(995.6 766.03) rotate(335.79)">
<rect x="584" y="-10.1" width="20.2" height="20.2" fill="#ff0000"/>
<rect x="608.95" y="-9.9" width="19.8" height="19.8" fill="none" stroke="#ff8000" stroke-width="0.75" stroke-opacity="0.52"/>
<rect x="633.7" y="-9.9" width="19.8" height="19.8" fill="none" stroke="#ffff00" stroke-width="0.75" stroke-opacity="0.52"/>
<rect x="658.45" y="-9.9" width="19.8" height="19.8" fill="none" stroke="#008000" stroke-width="0.75" stroke-opacity="0.52"/>
<rect x="683.2" y="-9.9" width="19.8" height="19.8" fill="none" stroke="#0000ff" stroke-width="0.75" stroke-opacity="0.52"/>
<rect x="707.95" y="-9.9" width="19.8" height="19.8" fill="none" stroke="#9400d3" stroke-width="0.75" stroke-opacity="0.52"/>
<rect x="732.6" y="-10.1" width="20.3" height="20.2" fill="#333333"/>
</g>
<g transform="translate(995.6 766.03) rotate(339.39)">
<rect x="584" y="-10.1" width="20.2" height="20.2" fill="#ff0000"/>
<rect x="608.75" y="-10.1" width="20.2" height="20.2" fill="#ff8000"/>
<rect x="633.7" y="-9.9" width="19.8" height="19.8" fill="none" stroke="#ffff00" stroke-width="0.75" stroke-opacity="0.52"/>
<rect x="658.25" y="-10.1" width="20.2" height="20.2" fill="#008000"/>
<rect x="683" y="-10.1" width="20.2" height="20.2" fill="#0000ff"/>
<rect x="707.95" y="-9.9" width="19.8" height="19.8" fill="none" stroke="#9400d3" stroke-width="0.75" stroke-opacity="0.52"/>
<rect x="732.6" y="-10.1" width="20.3" height="20.2" fill="#333333"/>
</g>
<g transform="translate(995.6 766.03) rotate(342.98)">
<rect x="584" y="-10.1" width="20.2" height="20.2" fill="#ff0000"/>
<rect x="608.75" y="-10.1" width="20.2" height="20.2" fill="#ff8000"/>
<rect x="633.7" y="-9.9" width="19.8" height="19.8" fill="none" stroke="#ffff00" stroke-width="0.75" stroke-opacity="0.52"/>
<rect x="658.25" y="-10.1" width="20.2" height="20.2" fill="#008000"/>
<rect x="683" y="-10.1" width="20.2" height="20.2" fill="#0000ff"/>
<rect x="707.95" y="-9.9" width="19.8" height="19.8" fill="none" stroke="#9400d3" stroke-width="0.75" stroke-opacity="0.52"/>
<rect x="732.8" y="-9.9" width="19.9" height="19.8" fill="none" stroke="#333333" stroke-width="0.75" stroke-opacity="0.52"/>
</g>
<g transform="translate(995.6 766.03) rotate(346.57)">
<rect x="584" y="-10.1" width="20.2" height="20.2" fill="#ff0000"/>
<rect x="608.75" y="-10.1" width="20.2" height="20.2" fill="#ff8000"/>
<rect x="633.7" y="-9.9" width="19.8" height="19.8" fill="none" stroke="#ffff00" stroke-width="0.75" stroke-opacity="0.52"/>
<rect x="658.25" y="-10.1" width="20.2" height="20.2" fill="#008000"/>
<rect x="683" y="-10.1" width="20.2" height="20.2" fill="#0000ff"/>
<rect x="707.95" y="-9.9" width="19.8" height="19.8" fill="none" stroke="#9400d3" stroke-width="0.75" stroke-opacity="0.52"/>
<rect x="732.6" y="-10.1" width="20.3" height="20.2" fill="#333333"/>
</g>
<g transform="translate(995.6 766.03) rotate(350.17)">
<rect x="584" y="-10.1" width="20.2" height="20.2" fill="#ff0000"/>
<rect x="608.75" y="-10.1" width="20.2" height="20.2" fill="#ff8000"/>
<rect x="633.7" y="-9.9" width="19.8" height="19.8" fill="none" stroke="#ffff00" stroke-width="0.75" stroke-opacity="0.52"/>
<rect x="658.25" y="-10.1" width="20.2" height="20.2" fill="#008000"/>
<rect x="683" y="-10.1" width="20.2" height="20.2" fill="#0000ff"/>
<rect x="707.95" y="-9.9" width="19.8" height="19.8" fill="none" stroke="#9400d3" stroke-width="0.75" stroke-opacity="0.52"/>
<rect x="732.6" y="-10.1" width="20.3" height="20.2" fill="#333333"/>
</g>
<g transform="translate(995.6 766.03) rotate(353.76)">
<rect x="584" y="-10.1" width="20.2" height="20.2" fill="#ff0000"/>
<rect x="608.75" y="-10.1" width="20.2" height="20.2" fill="#ff8000"/>
<rect x="633.7" y="-9.9" width="19.8" height="19.8" fill="none" stroke="#ffff00" stroke-width="0.75" stroke-opacity="0.52"/>
<rect x="658.25" y="-10.1" width="20.2" height="20.2" fill="#008000"/>
<rect x="683" y="-10.1" width="20.2" height="20.2" fill="#0000ff"/>
<rect x="707.95" y="-9.9" width="19.8" height="19.8" fill="none" stroke="#9400d3" stroke-width="0.75" stroke-opacity="0.52"/>
<rect x="732.6" y="-10.1" width="20.3" height="20.2" fill="#333333"/>
</g>
<g transform="translate(995.6 766.03) rotate(357.35)">
<rect x="584" y="-10.1" width="20.2" height="20.2" fill="#ff0000"/>
<rect x="608.75" y="-10.1" width="20.2" height="20.2" fill="#ff8000"/>
<rect x="633.7" y="-9.9" width="19.8" height="19.8" fill="none" stroke="#ffff00" stroke-width="0.75" stroke-opacity="0.52"/>
<rect x="658.25" y="-10.1" width="20.2" height="20.2" fill="#008000"/>
<rect x="683" y="-10.1" width="20.2" height="20.2" fill="#0000ff"/>
<rect x="707.95" y="-9.9" width="19.8" height="19.8" fill="none" stroke="#9400d3" stroke-width="0.75" stroke-opacity="0.52"/>
<rect x="732.6" y="-10.1" width="20.3" height="20.2" fill="#333333"/>
</g>
<g transform="translate(995.6 766.03) rotate(360.94)">
<rect x="584" y="-10.1" width="20.2" height="20.2" fill="#ff0000"/>
<rect x="608.75" y="-10.1" width="20.2" height="20.2" fill="#ff8000"/>
<rect x="633.7" y="-9.9" width="19.8" height="19.8" fill="none" stroke="#ffff00" stroke-width="0.75" stroke-opacity="0.52"/>
<rect x="658.25" y="-10.1" width="20.2" height="20.2" fill="#008000"/>
<rect x="683" y="-10.1" width="20.2" height="20.2" fill="#0000ff"/>
<rect x="707.95" y="-9.9" width="19.8" height="19.8" fill="none" stroke="#9400d3" stroke-width="0.75" stroke-opacity="0.52"/>
<rect x="732.6" y="-10.1" width="20.3" height="20.2" fill="#333333"/>
</g>
<g transform="translate(995.6 766.03) rotate(364.54)">
<rect x="584" y="-10.1" width="20.2" height="20.2" fill="#ff0000"/>
<rect x="608.75" y="-10.1" width="20.2" height="20.2" fill="#ff8000"/>
<rect x="633.7" y="-9.9" width="19.8" height="19.8" fill="none" stroke="#ffff00" stroke-width="0.75" stroke-opacity="0.52"/>
<rect x="658.25" y="-10.1" width="20.2" height="20.2" fill="#008000"/>
<rect x="683" y="-10.1" width="20.2" height="20.2" fill="#0000ff"/>
<rect x="707.95" y="-9.9" width="19.8" height="19.8" fill="none" stroke="#9400d3" stroke-width="0.75" stroke-opacity="0.52"/>
<rect x="732.6" y="-10.1" width="20.3" height="20.2" fill="#333333"/>
</g>
<g transform="translate(995.6 766.03) rotate(368.13)">
<rect x="584" y="-10.1" width="20.2" height="20.2" fill="#ff0000"/>
<rect x="608.95" y="-9.9" width="19.8" height="19.8" fill="none" stroke="#ff8000" stroke-width="0.75" stroke-opacity="0.52"/>
<rect x="633.7" y="-9.9" width="19.8" height="19.8" fill="none" stroke="#ffff00" stroke-width="0.75" stroke-opacity="0.52"/>
<rect x="658.25" y="-10.1" width="20.2" height="20.2" fill="#008000"/>
<rect x="683.2" y="-9.9" width="19.8" height="19.8" fill="none" stroke="#0000ff" stroke-width="0.75" stroke-opacity="0.52"/>
<rect x="707.95" y="-9.9" width="19.8" height="19.8" fill="none" stroke="#9400d3" stroke-width="0.75" stroke-opacity="0.52"/>
<rect x="732.6" y="-10.1" width="20.3" height="20.2" fill="#333333"/>
</g>
<g transform="translate(995.6 766.03) rotate(371.72)">
<rect x="584" y="-10.1" width="20.2" height="20.2" fill="#ff0000"/>
<rect x="608.75" y="-10.1" width="20.2" height="20.2" fill="#ff8000"/>
<rect x="633.7" y="-9.9" width="19.8" height="19.8" fill="none" stroke="#ffff00" stroke-width="0.75" stroke-opacity="0.52"/>
<rect x="658.25" y="-10.1" width="20.2" height="20.2" fill="#008000"/>
<rect x="683" y="-10.1" width="20.2" height="20.2" fill="#0000ff"/>
<rect x="707.95" y="-9.9" width="19.8" height="19.8" fill="none" stroke="#9400d3" stroke-width="0.75" stroke-opacity="0.52"/>
<rect x="732.6" y="-10.1" width="20.3" height="20.2" fill="#333333"/>
</g>
<g transform="translate(995.6 766.03) rotate(375.32)">
<rect x="584" y="-10.1" width="20.2" height="20.2" fill="#ff0000"/>
<rect x="608.75" y="-10.1" width="20.2" height="20.2" fill="#ff8000"/>
<rect x="633.7" y="-9.9" width="19.8" height="19.8" fill="none" stroke="#ffff00" stroke-width="0.75" stroke-opacity="0.52"/>
<rect x="658.25" y="-10.1" width="20.2" height="20.2" fill="#008000"/>
<rect x="683" y="-10.1" width="20.2" height="20.2" fill="#0000ff"/>
<rect x="707.95" y="-9.9" width="19.8" height="19.8" fill="none" stroke="#9400d3" stroke-width="0.75" stroke-opacity="0.52"/>
<rect x="732.6" y="-10.1" width="20.3" height="20.2" fill="#333333"/>
</g>
<g transform="translate(995.6 766.03) rotate(378.91)">
<rect x="584" y="-10.1" width="20.2" height="20.2" fill="#ff0000"/>
<rect x="608.75" y="-10.1" width="20.2" height="20.2" fill="#ff8000"/>
<rect x="633.7" y="-9.9" width="19.8" height="19.8" fill="none" stroke="#ffff00" stroke-width="0.75" stroke-opacity="0.52"/>
<rect x="658.25" y="-10.1" width="20.2" height="20.2" fill="#008000"/>
<rect x="683" y="-10.1" width="20.2" height="20.2" fill="#0000ff"/>
<rect x="707.95" y="-9.9" width="19.8" height="19.8" fill="none" stroke="#9400d3" stroke-width="0.75" stroke-opacity="0.52"/>
<rect x="732.6" y="-10.1" width="20.3" height="20.2" fill="#333333"/>
</g>
<g transform="translate(995.6 766.03) rotate(382.5)">
<rect x="584" y="-10.1" width="20.2" height="20.2" fill="#ff0000"/>
<rect x="608.75" y="-10.1" width="20.2" height="20.2" fill="#ff8000"/>
<rect x="633.7" y="-9.9" width="19.8" height="19.8" fill="none" stroke="#ffff00" stroke-width="0.75" stroke-opacity="0.52"/>
<rect x="658.25" y="-10.1" width="20.2" height="20.2" fill="#008000"/>
<rect x="683" y="-10.1" width="20.2" height="20.2" fill="#0000ff"/>
<rect x="707.95" y="-9.9" width="19.8" height="19.8" fill="none" stroke="#9400d3" stroke-width="0.75" stroke-opacity="0.52"/>
<rect x="732.6" y="-10.1" width="20.3" height="20.2" fill="#333333"/>
</g>
<g transform="translate(995.6 766.03) rotate(386.09)">
<rect x="584" y="-10.1" width="20.2" height="20.2" fill="#ff0000"/>
<rect x="608.75" y="-10.1" width="20.2" height="20.2" fill="#ff8000"/>
<rect x="633.7" y="-9.9" width="19.8" height="19.8" fill="none" stroke="#ffff00" stroke-width="0.75" stroke-opacity="0.52"/>
<rect x="658.25" y="-10.1" width="20.2" height="20.2" fill="#008000"/>
<rect x="683" y="-10.1" width="20.2" height="20.2" fill="#0000ff"/>
<rect x="707.95" y="-9.9" width="19.8" height="19.8" fill="none" stroke="#9400d3" stroke-width="0.75" stroke-opacity="0.52"/>
<rect x="732.6" y="-10.1" width="20.3" height="20.2" fill="#333333"/>
</g>
<g transform="translate(995.6 766.03) rotate(389.69)">
<rect x="584" y="-10.1" width="20.2" height="20.2" fill="#ff0000"/>
<rect x="608.75" y="-10.1" width="20.2" height="20.2" fill="#ff8000"/>
<rect x="633.7" y="-9.9" width="19.8" height="19.8" fill="none" stroke="#ffff00" stroke-width="0.75" stroke-opacity="0.52"/>
<rect x="658.25" y="-10.1" width="20.2" height="20.2" fill="#008000"/>
<rect x="683" y="-10.1" width="20.2" height="20.2" fill="#0000ff"/>
<rect x="707.95" y="-9.9" width="19.8" height="19.8" fill="none" stroke="#9400d3" stroke-width="0.75" stroke-opacity="0.52"/>
<rect x="732.6" y="-10.1" width="20.3" height="20.2" fill="#333333"/>
</g>
<g transform="translate(995.6 766.03) rotate(393.28)">
<rect x="584" y="-10.1" width="20.2" height="20.2" fill="#ff0000"/>
<rect x="608.75" y="-10.1" width="20.2" height="20.2" fill="#ff8000"/>
<rect x="633.7" y="-9.9" width="19.8" height="19.8" fill="none" stroke="#ffff00" stroke-width="0.75" stroke-opacity="0.52"/>
<rect x="658.25" y="-10.1" width="20.2" height="20.2" fill="#008000"/>
<rect x="683" y="-10.1" width="20.2" height="20.2" fill="#0000ff"/>
<rect x="707.95" y="-9.9" width="19.8" height="19.8" fill="none" stroke="#9400d3" stroke-width="0.75" stroke-opacity="0.52"/>
<rect x="732.6" y="-10.1" width="20.3" height="20.2" fill="#333333"/>
</g>
<g transform="translate(995.6 766.03) rotate(396.87)">
<rect x="584" y="-10.1" width="20.2" height="20.2" fill="#ff0000"/>
<rect x="608.75" y="-10.1" width="20.2" height="20.2" fill="#ff8000"/>
<rect x="633.7" y="-9.9" width="19.8" height="19.8" fill="none" stroke="#ffff00" stroke-width="0.75" stroke-opacity="0.52"/>
<rect x="658.25" y="-10.1" width="20.2" height="20.2" fill="#008000"/>
<rect x="683" y="-10.1" width="20.2" height="20.2" fill="#0000ff"/>
<rect x="707.95" y="-9.9" width="19.8" height="19.8" fill="none" stroke="#9400d3" stroke-width="0.75" stroke-opacity="0.52"/>
<rect x="732.6" y="-10.1" width="20.3" height="20.2" fill="#333333"/>
</g>
<g transform="translate(995.6 766.03) rotate(400.46)">
<rect x="584" y="-10.1" width="20.2" height="20.2" fill="#ff0000"/>
<rect x="608.75" y="-10.1" width="20.2" height="20.2" fill="#ff8000"/>
<rect x="633.7" y="-9.9" width="19.8" height="19.8" fill="none" stroke="#ffff00" stroke-width="0.75" stroke-opacity="0.52"/>
<rect x="658.25" y="-10.1" width="20.2" height="20.2" fill="#008000"/>
<rect x="683.2" y="-9.9" width="19.8" height="19.8" fill="none" stroke="#0000ff" stroke-width="0.75" stroke-opacity="0.52"/>
<rect x="707.75" y="-10.1" width="20.2" height="20.2" fill="#9400d3"/>
<rect x="732.6" y="-10.1" width="20.3" height="20.2" fill="#333333"/>
</g>
<g transform="translate(995.6 766.03) rotate(404.06)">
<rect x="584" y="-10.1" width="20.2" height="20.2" fill="#ff0000"/>
<rect x="608.75" y="-10.1" width="20.2" height="20.2" fill="#ff8000"/>
<rect x="633.7" y="-9.9" width="19.8" height="19.8" fill="none" stroke="#ffff00" stroke-width="0.75" stroke-opacity="0.52"/>
<rect x="658.25" y="-10.1" width="20.2" height="20.2" fill="#008000"/>
<rect x="683.2" y="-9.9" width="19.8" height="19.8" fill="none" stroke="#0000ff" stroke-width="0.75" stroke-opacity="0.52"/>
<rect x="707.75" y="-10.1" width="20.2" height="20.2" fill="#9400d3"/>
<rect x="732.6" y="-10.1" width="20.3" height="20.2" fill="#333333"/>
</g>
<g transform="translate(995.6 766.03) rotate(407.65)">
<rect x="584" y="-10.1" width="20.2" height="20.2" fill="#ff0000"/>
<rect x="608.75" y="-10.1" width="20.2" height="20.2" fill="#ff8000"/>
<rect x="633.7" y="-9.9" width="19.8" height="19.8" fill="none" stroke="#ffff00" stroke-width="0.75" stroke-opacity="0.52"/>
<rect x="658.25" y="-10.1" width="20.2" height="20.2" fill="#008000"/>
<rect x="683.2" y="-9.9" width="19.8" height="19.8" fill="none" stroke="#0000ff" stroke-width="0.75" stroke-opacity="0.52"/>
<rect x="707.75" y="-10.1" width="20.2" height="20.2" fill="#9400d3"/>
<rect x="732.6" y="-10.1" width="20.3" height="20.2" fill="#333333"/>
</g>
<g transform="translate(995.6 766.03) rotate(411.24)">
<rect x="584" y="-10.1" width="20.2" height="20.2" fill="#ff0000"/>
<rect x="608.75" y="-10.1" width="20.2" height="20.2" fill="#ff8000"/>
<rect x="633.7" y="-9.9" width="19.8" height="19.8" fill="none" stroke="#ffff00" stroke-width="0.75" stroke-opacity="0.52"/>
<rect x="658.25" y="-10.1" width="20.2" height="20.2" fill="#008000"/>
<rect x="683.2" y="-9.9" width="19.8" height="19.8" fill="none" stroke="#0000ff" stroke-width="0.75" stroke-opacity="0.52"/>
<rect x="707.75" y="-10.1" width="20.2" height="20.2" fill="#9400d3"/>
<rect x="732.6" y="-10.1" width="20.3" height="20.2" fill="#333333"/>
</g>
<g transform="translate(995.6 766.03) rotate(414.84)">
<rect x="584" y="-10.1" width="20.2" height="20.2" fill="#ff0000"/>
<rect x="608.75" y="-10.1" width="20.2" height="20.2" fill="#ff8000"/>
<rect x="633.7" y="-9.9" width="19.8" height="19.8" fill="none" stroke="#ffff00" stroke-width="0.75" stroke-opacity="0.52"/>
<rect x="658.25" y="-10.1" width="20.2" height="20.2" fill="#008000"/>
<rect x="683.2" y="-9.9" width="19.8" height="19.8" fill="none" stroke="#0000ff" stroke-width="0.75" stroke-opacity="0.52"/>
<rect x="707.75" y="-10.1" width="20.2" height="20.2" fill="#9400d3"/>
<rect x="732.6" y="-10.1" width="20.3" height="20.2" fill="#333333"/>
</g>
<g transform="translate(995.6 766.03) rotate(418.43)">
<rect x="584" y="-10.1" width="20.2" height="20.2" fill="#ff0000"/>
<rect x="608.75" y="-10.1" width="20.2" height="20.2" fill="#ff8000"/>
<rect x="633.7" y="-9.9" width="19.8" height="19.8" fill="none" stroke="#ffff00" stroke-width="0.75" stroke-opacity="0.52"/>
<rect x="658.25" y="-10.1" width="20.2" height="20.2" fill="#008000"/>
<rect x="683" y="-10.1" width="20.2" height="20.2" fill="#0000ff"/>
<rect x="707.95" y="-9.9" width="19.8" height="19.8" fill="none" stroke="#9400d3" stroke-width="0.75" stroke-opacity="0.52"/>
<rect x="732.8" y="-9.9" width="19.9" height="19.8" fill="none" stroke="#333333" stroke-width="0.75" stroke-opacity="0.52"/>
</g>
<g transform="translate(995.6 766.03) rotate(422.02)">
<rect x="584" y="-10.1" width="20.2" height="20.2" fill="#ff0000"/>
<rect x="608.75" y="-10.1" width="20.2" height="20.2" fill="#ff8000"/>
<rect x="633.7" y="-9.9" width="19.8" height="19.8" fill="none" stroke="#ffff00" stroke-width="0.75" stroke-opacity="0.52"/>
<rect x="658.25" y="-10.1" width="20.2" height="20.2" fill="#008000"/>
<rect x="683" y="-10.1" width="20.2" height="20.2" fill="#0000ff"/>
<rect x="707.95" y="-9.9" width="19.8" height="19.8" fill="none" stroke="#9400d3" stroke-width="0.75" stroke-opacity="0.52"/>
<rect x="732.8" y="-9.9" width="19.9" height="19.8" fill="none" stroke="#333333" stroke-width="0.75" stroke-opacity="0.52"/>
</g>
<g transform="translate(995.6 766.03) rotate(425.61)">
<rect x="584" y="-10.1" width="20.2" height="20.2" fill="#ff0000"/>
<rect x="608.75" y="-10.1" width="20.2" height="20.2" fill="#ff8000"/>
<rect x="633.7" y="-9.9" width="19.8" height="19.8" fill="none" stroke="#ffff00" stroke-width="0.75" stroke-opacity="0.52"/>
<rect x="658.25" y="-10.1" width="20.2" height="20.2" fill="#008000"/>
<rect x="683" y="-10.1" width="20.2" height="20.2" fill="#0000ff"/>
<rect x="707.95" y="-9.9" width="19.8" height="19.8" fill="none" stroke="#9400d3" stroke-width="0.75" stroke-opacity="0.52"/>
<rect x="732.8" y="-9.9" width="19.9" height="19.8" fill="none" stroke="#333333" stroke-width="0.75" stroke-opacity="0.52"/>
</g>
<g transform="translate(995.6 766.03) rotate(429.21)">
<rect x="584" y="-10.1" width="20.2" height="20.2" fill="#ff0000"/>
<rect x="608.95" y="-9.9" width="19.8" height="19.8" fill="none" stroke="#ff8000" stroke-width="0.75" stroke-opacity="0.52"/>
<rect x="633.7" y="-9.9" width="19.8" height="19.8" fill="none" stroke="#ffff00" stroke-width="0.75" stroke-opacity="0.52"/>
<rect x="658.45" y="-9.9" width="19.8" height="19.8" fill="none" stroke="#008000" stroke-width="0.75" stroke-opacity="0.52"/>
<rect x="683.2" y="-9.9" width="19.8" height="19.8" fill="none" stroke="#0000ff" stroke-width="0.75" stroke-opacity="0.52"/>
<rect x="707.95" y="-9.9" width="19.8" height="19.8" fill="none" stroke="#9400d3" stroke-width="0.75" stroke-opacity="0.52"/>
<rect x="732.8" y="-9.9" width="19.9" height="19.8" fill="none" stroke="#333333" stroke-width="0.75" stroke-opacity="0.52"/>
</g>
<g transform="translate(995.6 766.03) rotate(432.8)">
<rect x="584" y="-10.1" width="20.2" height="20.2" fill="#ff0000"/>
<rect x="608.75" y="-10.1" width="20.2" height="20.2" fill="#ff8000"/>
<rect x="633.7" y="-9.9" width="19.8" height="19.8" fill="none" stroke="#ffff00" stroke-width="0.75" stroke-opacity="0.52"/>
<rect x="658.25" y="-10.1" width="20.2" height="20.2" fill="#008000"/>
<rect x="683" y="-10.1" width="20.2" height="20.2" fill="#0000ff"/>
<rect x="707.95" y="-9.9" width="19.8" height="19.8" fill="none" stroke="#9400d3" stroke-width="0.75" stroke-opacity="0.52"/>
<rect x="732.8" y="-9.9" width="19.9" height="19.8" fill="none" stroke="#333333" stroke-width="0.75" stroke-opacity="0.52"/>
</g>
<g transform="translate(995.6 766.03) rotate(436.39)">
<rect x="584" y="-10.1" width="20.2" height="20.2" fill="#ff0000"/>
<rect x="608.75" y="-10.1" width="20.2" height="20.2" fill="#ff8000"/>
<rect x="633.7" y="-9.9" width="19.8" height="19.8" fill="none" stroke="#ffff00" stroke-width="0.75" stroke-opacity="0.52"/>
<rect x="658.25" y="-10.1" width="20.2" height="20.2" fill="#008000"/>
<rect x="683.2" y="-9.9" width="19.8" height="19.8" fill="none" stroke="#0000ff" stroke-width="0.75" stroke-opacity="0.52"/>
<rect x="707.95" y="-9.9" width="19.8" height="19.8" fill="none" stroke="#9400d3" stroke-width="0.75" stroke-opacity="0.52"/>
<rect x="732.8" y="-9.9" width="19.9" height="19.8" fill="none" stroke="#333333" stroke-width="0.75" stroke-opacity="0.52"/>
</g>
<g transform="translate(995.6 766.03) rotate(439.99)">
<rect x="584" y="-10.1" width="20.2" height="20.2" fill="#ff0000"/>
<rect x="608.95" y="-9.9" width="19.8" height="19.8" fill="none" stroke="#ff8000" stroke-width="0.75" stroke-opacity="0.52"/>
<rect x="633.7" y="-9.9" width="19.8" height="19.8" fill="none" stroke="#ffff00" stroke-width="0.75" stroke-opacity="0.52"/>
<rect x="658.45" y="-9.9" width="19.8" height="19.8" fill="none" stroke="#008000" stroke-width="0.75" stroke-opacity="0.52"/>
<rect x="683.2" y="-9.9" width="19.8" height="19.8" fill="none" stroke="#0000ff" stroke-width="0.75" stroke-opacity="0.52"/>
<rect x="707.95" y="-9.9" width="19.8" height="19.8" fill="none" stroke="#9400d3" stroke-width="0.75" stroke-opacity="0.52"/>
<rect x="732.8" y="-9.9" width="19.9" height="19.8" fill="none" stroke="#333333" stroke-width="0.75" stroke-opacity="0.52"/>
</g>
<g transform="translate(995.6 766.03) rotate(443.58)">
<rect x="584" y="-10.1" width="20.2" height="20.2" fill="#ff0000"/>
<rect x="608.95" y="-9.9" width="19.8" height="19.8" fill="none" stroke="#ff8000" stroke-width="0.75" stroke-opacity="0.52"/>
<rect x="633.7" y="-9.9" width="19.8" height="19.8" fill="none" stroke="#ffff00" stroke-width="0.75" stroke-opacity="0.52"/>
<rect x="658.45" y="-9.9" width="19.8" height="19.8" fill="none" stroke="#008000" stroke-width="0.75" stroke-opacity="0.52"/>
<rect x="683.2" y="-9.9" width="19.8" height="19.8" fill="none" stroke="#0000ff" stroke-width="0.75" stroke-opacity="0.52"/>
<rect x="707.95" y="-9.9" width="19.8" height="19.8" fill="none" stroke="#9400d3" stroke-width="0.75" stroke-opacity="0.52"/>
<rect x="732.8" y="-9.9" width="19.9" height="19.8" fill="none" stroke="#333333" stroke-width="0.75" stroke-opacity="0.52"/>
</g>
<g transform="translate(995.6 766.03) rotate(447.17)">
<rect x="584" y="-10.1" width="20.2" height="20.2" fill="#ff0000"/>
<rect x="608.95" y="-9.9" width="19.8" height="19.8" fill="none" stroke="#ff8000" stroke-width="0.75" stroke-opacity="0.52"/>
<rect x="633.7" y="-9.9" width="19.8" height="19.8" fill="none" stroke="#ffff00" stroke-width="0.75" stroke-opacity="0.52"/>
<rect x="658.45" y="-9.9" width="19.8" height="19.8" fill="none" stroke="#008000" stroke-width="0.75" stroke-opacity="0.52"/>
<rect x="683.2" y="-9.9" width="19.8" height="19.8" fill="none" stroke="#0000ff" stroke-width="0.75" stroke-opacity="0.52"/>
<rect x="707.95" y="-9.9" width="19.8" height="19.8" fill="none" stroke="#9400d3" stroke-width="0.75" stroke-opacity="0.52"/>
<rect x="732.8" y="-9.9" width="19.9" height="19.8" fill="none" stroke="#333333" stroke-width="0.75" stroke-opacity="0.52"/>
</g>
<g transform="translate(995.6 766.03) rotate(450.76)">
<rect x="584" y="-10.1" width="20.2" height="20.2" fill="#ff0000"/>
<rect x="608.95" y="-9.9" width="19.8" height="19.8" fill="none" stroke="#ff8000" stroke-width="0.75" stroke-opacity="0.52"/>
<rect x="633.7" y="-9.9" width="19.8" height="19.8" fill="none" stroke="#ffff00" stroke-width="0.75" stroke-opacity="0.52"/>
<rect x="658.45" y="-9.9" width="19.8" height="19.8" fill="none" stroke="#008000" stroke-width="0.75" stroke-opacity="0.52"/>
<rect x="683.2" y="-9.9" width="19.8" height="19.8" fill="none" stroke="#0000ff" stroke-width="0.75" stroke-opacity="0.52"/>
<rect x="707.95" y="-9.9" width="19.8" height="19.8" fill="none" stroke="#9400d3" stroke-width="0.75" stroke-opacity="0.52"/>
<rect x="732.8" y="-9.9" width="19.9" height="19.8" fill="none" stroke="#333333" stroke-width="0.75" stroke-opacity="0.52"/>
</g>
<g transform="translate(995.6 766.03) rotate(454.36)">
<rect x="584" y="-10.1" width="20.2" height="20.2" fill="#ff0000"/>
<rect x="608.95" y="-9.9" width="19.8" height="19.8" fill="none" stroke="#ff8000" stroke-width="0.75" stroke-opacity="0.52"/>
<rect x="633.7" y="-9.9" width="19.8" height="19.8" fill="none" stroke="#ffff00" stroke-width="0.75" stroke-opacity="0.52"/>
<rect x="658.45" y="-9.9" width="19.8" height="19.8" fill="none" stroke="#008000" stroke-width="0.75" stroke-opacity="0.52"/>
<rect x="683.2" y="-9.9" width="19.8" height="19.8" fill="none" stroke="#0000ff" stroke-width="0.75" stroke-opacity="0.52"/>
<rect x="707.95" y="-9.9" width="19.8" height="19.8" fill="none" stroke="#9400d3" stroke-width="0.75" stroke-opacity="0.52"/>
<rect x="732.8" y="-9.9" width="19.9" height="19.8" fill="none" stroke="#333333" stroke-width="0.75" stroke-opacity="0.52"/>
</g>
<g transform="translate(995.6 766.03) rotate(457.95)">
<rect x="584" y="-10.1" width="20.2" height="20.2" fill="#ff0000"/>
<rect x="608.75" y="-10.1" width="20.2" height="20.2" fill="#ff8000"/>
<rect x="633.7" y="-9.9" width="19.8" height="19.8" fill="none" stroke="#ffff00" stroke-width="0.75" stroke-opacity="0.52"/>
<rect x="658.25" y="-10.1" width="20.2" height="20.2" fill="#008000"/>
<rect x="683" y="-10.1" width="20.2" height="20.2" fill="#0000ff"/>
<rect x="707.95" y="-9.9" width="19.8" height="19.8" fill="none" stroke="#9400d3" stroke-width="0.75" stroke-opacity="0.52"/>
<rect x="732.6" y="-10.1" width="20.3" height="20.2" fill="#333333"/>
</g>
<g transform="translate(995.6 766.03) rotate(461.54)">
<rect x="584" y="-10.1" width="20.2" height="20.2" fill="#ff0000"/>
<rect x="608.75" y="-10.1" width="20.2" height="20.2" fill="#ff8000"/>
<rect x="633.7" y="-9.9" width="19.8" height="19.8" fill="none" stroke="#ffff00" stroke-width="0.75" stroke-opacity="0.52"/>
<rect x="658.25" y="-10.1" width="20.2" height="20.2" fill="#008000"/>
<rect x="683" y="-10.1" width="20.2" height="20.2" fill="#0000ff"/>
<rect x="707.95" y="-9.9" width="19.8" height="19.8" fill="none" stroke="#9400d3" stroke-width="0.75" stroke-opacity="0.52"/>
<rect x="732.6" y="-10.1" width="20.3" height="20.2" fill="#333333"/>
</g>
<g transform="translate(995.6 766.03) rotate(465.14)">
<rect x="584" y="-10.1" width="20.2" height="20.2" fill="#ff0000"/>
<rect x="608.75" y="-10.1" width="20.2" height="20.2" fill="#ff8000"/>
<rect x="633.7" y="-9.9" width="19.8" height="19.8" fill="none" stroke="#ffff00" stroke-width="0.75" stroke-opacity="0.52"/>
<rect x="658.25" y="-10.1" width="20.2" height="20.2" fill="#008000"/>
<rect x="683" y="-10.1" width="20.2" height="20.2" fill="#0000ff"/>
<rect x="707.95" y="-9.9" width="19.8" height="19.8" fill="none" stroke="#9400d3" stroke-width="0.75" stroke-opacity="0.52"/>
<rect x="732.6" y="-10.1" width="20.3" height="20.2" fill="#333333"/>
</g>
<g transform="translate(995.6 766.03) rotate(468.73)">
<rect x="584" y="-10.1" width="20.2" height="20.2" fill="#ff0000"/>
<rect x="608.75" y="-10.1" width="20.2" height="20.2" fill="#ff8000"/>
<rect x="633.7" y="-9.9" width="19.8" height="19.8" fill="none" stroke="#ffff00" stroke-width="0.75" stroke-opacity="0.52"/>
<rect x="658.25" y="-10.1" width="20.2" height="20.2" fill="#008000"/>
<rect x="683" y="-10.1" width="20.2" height="20.2" fill="#0000ff"/>
<rect x="707.95" y="-9.9" width="19.8" height="19.8" fill="none" stroke="#9400d3" stroke-width="0.75" stroke-opacity="0.52"/>
<rect x="732.6" y="-10.1" width="20.3" height="20.2" fill="#333333"/>
</g>
<g transform="translate(995.6 766.03) rotate(472.32)">
<rect x="584" y="-10.1" width="20.2" height="20.2" fill="#ff0000"/>
<rect x="608.75" y="-10.1" width="20.2" height="20.2" fill="#ff8000"/>
<rect x="633.7" y="-9.9" width="19.8" height="19.8" fill="none" stroke="#ffff00" stroke-width="0.75" stroke-opacity="0.52"/>
<rect x="658.25" y="-10.1" width="20.2" height="20.2" fill="#008000"/>
<rect x="683" y="-10.1" width="20.2" height="20.2" fill="#0000ff"/>
<rect x="707.95" y="-9.9" width="19.8" height="19.8" fill="none" stroke="#9400d3" stroke-width="0.75" stroke-opacity="0.52"/>
<rect x="732.6" y="-10.1" width="20.3" height="20.2" fill="#333333"/>
</g>
<g transform="translate(995.6 766.03) rotate(475.91)">
<rect x="584" y="-10.1" width="20.2" height="20.2" fill="#ff0000"/>
<rect x="608.75" y="-10.1" width="20.2" height="20.2" fill="#ff8000"/>
<rect x="633.7" y="-9.9" width="19.8" height="19.8" fill="none" stroke="#ffff00" stroke-width="0.75" stroke-opacity="0.52"/>
<rect x="658.25" y="-10.1" width="20.2" height="20.2" fill="#008000"/>
<rect x="683" y="-10.1" width="20.2" height="20.2" fill="#0000ff"/>
<rect x="707.95" y="-9.9" width="19.8" height="19.8" fill="none" stroke="#9400d3" stroke-width="0.75" stroke-opacity="0.52"/>
<rect x="732.6" y="-10.1" width="20.3" height="20.2" fill="#333333"/>
</g>
<g transform="translate(995.6 766.03) rotate(479.51)">
<rect x="584" y="-10.1" width="20.2" height="20.2" fill="#ff0000"/>
<rect x="608.75" y="-10.1" width="20.2" height="20.2" fill="#ff8000"/>
<rect x="633.7" y="-9.9" width="19.8" height="19.8" fill="none" stroke="#ffff00" stroke-width="0.75" stroke-opacity="0.52"/>
<rect x="658.25" y="-10.1" width="20.2" height="20.2" fill="#008000"/>
<rect x="683" y="-10.1" width="20.2" height="20.2" fill="#0000ff"/>
<rect x="707.95" y="-9.9" width="19.8" height="19.8" fill="none" stroke="#9400d3" stroke-width="0.75" stroke-opacity="0.52"/>
<rect x="732.6" y="-10.1" width="20.3" height="20.2" fill="#333333"/>
</g>
<g transform="translate(995.6 766.03) rotate(483.1)">
<rect x="584" y="-10.1" width="20.2" height="20.2" fill="#ff0000"/>
<rect x="608.75" y="-10.1" width="20.2" height="20.2" fill="#ff8000"/>
<rect x="633.7" y="-9.9" width="19.8" height="19.8" fill="none" stroke="#ffff00" stroke-width="0.75" stroke-opacity="0.52"/>
<rect x="658.25" y="-10.1" width="20.2" height="20.2" fill="#008000"/>
<rect x="683" y="-10.1" width="20.2" height="20.2" fill="#0000ff"/>
<rect x="707.95" y="-9.9" width="19.8" height="19.8" fill="none" stroke="#9400d3" stroke-width="0.75" stroke-opacity="0.52"/>
<rect x="732.6" y="-10.1" width="20.3" height="20.2" fill="#333333"/>
</g>
<g transform="translate(995.6 766.03) rotate(486.69)">
<rect x="584" y="-10.1" width="20.2" height="20.2" fill="#ff0000"/>
<rect x="608.75" y="-10.1" width="20.2" height="20.2" fill="#ff8000"/>
<rect x="633.7" y="-9.9" width="19.8" height="19.8" fill="none" stroke="#ffff00" stroke-width="0.75" stroke-opacity="0.52"/>
<rect x="658.25" y="-10.1" width="20.2" height="20.2" fill="#008000"/>
<rect x="683" y="-10.1" width="20.2" height="20.2" fill="#0000ff"/>
<rect x="707.95" y="-9.9" width="19.8" height="19.8" fill="none" stroke="#9400d3" stroke-width="0.75" stroke-opacity="0.52"/>
<rect x="732.6" y="-10.1" width="20.3" height="20.2" fill="#333333"/>
</g>
<g transform="translate(995.6 766.03) rotate(490.28)">
<rect x="584" y="-10.1" width="20.2" height="20.2" fill="#ff0000"/>
<rect x="608.75" y="-10.1" width="20.2" height="20.2" fill="#ff8000"/>
<rect x="633.7" y="-9.9" width="19.8" height="19.8" fill="none" stroke="#ffff00" stroke-width="0.75" stroke-opacity="0.52"/>
<rect x="658.25" y="-10.1" width="20.2" height="20.2" fill="#008000"/>
<rect x="683" y="-10.1" width="20.2" height="20.2" fill="#0000ff"/>
<rect x="707.95" y="-9.9" width="19.8" height="19.8" fill="none" stroke="#9400d3" stroke-width="0.75" stroke-opacity="0.52"/>
<rect x="732.6" y="-10.1" width="20.3" height="20.2" fill="#333333"/>
</g>
<g transform="translate(995.6 766.03) rotate(493.88)">
<rect x="584" y="-10.1" width="20.2" height="20.2" fill="#ff0000"/>
<rect x="608.75" y="-10.1" width="20.2" height="20.2" fill="#ff8000"/>
<rect x="633.7" y="-9.9" width="19.8" height="19.8" fill="none" stroke="#ffff00" stroke-width="0.75" stroke-opacity="0.52"/>
<rect x="658.25" y="-10.1" width="20.2" height="20.2" fill="#008000"/>
<rect x="683" y="-10.1" width="20.2" height="20.2" fill="#0000ff"/>
<rect x="707.95" y="-9.9" width="19.8" height="19.8" fill="none" stroke="#9400d3" stroke-width="0.75" stroke-opacity="0.52"/>
<rect x="732.6" y="-10.1" width="20.3" height="20.2" fill="#333333"/>
</g>
<g transform="translate(995.6 766.03) rotate(497.47)">
<rect x="584" y="-10.1" width="20.2" height="20.2" fill="#ff0000"/>
<rect x="608.75" y="-10.1" width="20.2" height="20.2" fill="#ff8000"/>
<rect x="633.7" y="-9.9" width="19.8" height="19.8" fill="none" stroke="#ffff00" stroke-width="0.75" stroke-opacity="0.52"/>
<rect x="658.25" y="-10.1" width="20.2" height="20.2" fill="#008000"/>
<rect x="683" y="-10.1" width="20.2" height="20.2" fill="#0000ff"/>
<rect x="707.95" y="-9.9" width="19.8" height="19.8" fill="none" stroke="#9400d3" stroke-width="0.75" stroke-opacity="0.52"/>
<rect x="732.6" y="-10.1" width="20.3" height="20.2" fill="#333333"/>
</g>
<g transform="translate(995.6 766.03) rotate(501.06)">
<rect x="584" y="-10.1" width="20.2" height="20.2" fill="#ff0000"/>
<rect x="608.75" y="-10.1" width="20.2" height="20.2" fill="#ff8000"/>
<rect x="633.7" y="-9.9" width="19.8" height="19.8" fill="none" stroke="#ffff00" stroke-width="0.75" stroke-opacity="0.52"/>
<rect x="658.25" y="-10.1" width="20.2" height="20.2" fill="#008000"/>
<rect x="683" y="-10.1" width="20.2" height="20.2" fill="#0000ff"/>
<rect x="707.95" y="-9.9" width="19.8" height="19.8" fill="none" stroke="#9400d3" stroke-width="0.75" stroke-opacity="0.52"/>
<rect x="732.6" y="-10.1" width="20.3" height="20.2" fill="#333333"/>
</g>
<g transform="translate(995.6 766.03) rotate(504.66)">
<rect x="584" y="-10.1" width="20.2" height="20.2" fill="#ff0000"/>
<rect x="608.75" y="-10.1" width="20.2" height="20.2" fill="#ff8000"/>
<rect x="633.7" y="-9.9" width="19.8" height="19.8" fill="none" stroke="#ffff00" stroke-width="0.75" stroke-opacity="0.52"/>
<rect x="658.25" y="-10.1" width="20.2" height="20.2" fill="#008000"/>
<rect x="683" y="-10.1" width="20.2" height="20.2" fill="#0000ff"/>
<rect x="707.95" y="-9.9" width="19.8" height="19.8" fill="none" stroke="#9400d3" stroke-width="0.75" stroke-opacity="0.52"/>
<rect x="732.6" y="-10.1" width="20.3" height="20.2" fill="#333333"/>
</g>
<g transform="translate(995.6 766.03) rotate(508.25)">
<rect x="584" y="-10.1" width="20.2" height="20.2" fill="#ff0000"/>
<rect x="608.75" y="-10.1" width="20.2" height="20.2" fill="#ff8000"/>
<rect x="633.7" y="-9.9" width="19.8" height="19.8" fill="none" stroke="#ffff00" stroke-width="0.75" stroke-opacity="0.52"/>
<rect x="658.25" y="-10.1" width="20.2" height="20.2" fill="#008000"/>
<rect x="683" y="-10.1" width="20.2" height="20.2" fill="#0000ff"/>
<rect x="707.95" y="-9.9" width="19.8" height="19.8" fill="none" stroke="#9400d3" stroke-width="0.75" stroke-opacity="0.52"/>
<rect x="732.6" y="-10.1" width="20.3" height="20.2" fill="#333333"/>
</g>
<g transform="translate(995.6 766.03) rotate(511.84)">
<rect x="584" y="-10.1" width="20.2" height="20.2" fill="#ff0000"/>
<rect x="608.75" y="-10.1" width="20.2" height="20.2" fill="#ff8000"/>
<rect x="633.7" y="-9.9" width="19.8" height="19.8" fill="none" stroke="#ffff00" stroke-width="0.75" stroke-opacity="0.52"/>
<rect x="658.25" y="-10.1" width="20.2" height="20.2" fill="#008000"/>
<rect x="683" y="-10.1" width="20.2" height="20.2" fill="#0000ff"/>
<rect x="707.95" y="-9.9" width="19.8" height="19.8" fill="none" stroke="#9400d3" stroke-width="0.75" stroke-opacity="0.52"/>
<rect x="732.6" y="-10.1" width="20.3" height="20.2" fill="#333333"/>
</g>
<g transform="translate(995.6 766.03) rotate(515.43)">
<rect x="584" y="-10.1" width="20.2" height="20.2" fill="#ff0000"/>
<rect x="608.75" y="-10.1" width="20.2" height="20.2" fill="#ff8000"/>
<rect x="633.7" y="-9.9" width="19.8" height="19.8" fill="none" stroke="#ffff00" stroke-width="0.75" stroke-opacity="0.52"/>
<rect x="658.25" y="-10.1" width="20.2" height="20.2" fill="#008000"/>
<rect x="683" y="-10.1" width="20.2" height="20.2" fill="#0000ff"/>
<rect x="707.95" y="-9.9" width="19.8" height="19.8" fill="none" stroke="#9400d3" stroke-width="0.75" stroke-opacity="0.52"/>
<rect x="732.6" y="-10.1" width="20.3" height="20.2" fill="#333333"/>
</g>
<g transform="translate(995.6 766.03) rotate(519.03)">
<rect x="584" y="-10.1" width="20.2" height="20.2" fill="#ff0000"/>
<rect x="608.75" y="-10.1" width="20.2" height="20.2" fill="#ff8000"/>
<rect x="633.7" y="-9.9" width="19.8" height="19.8" fill="none" stroke="#ffff00" stroke-width="0.75" stroke-opacity="0.52"/>
<rect x="658.25" y="-10.1" width="20.2" height="20.2" fill="#008000"/>
<rect x="683" y="-10.1" width="20.2" height="20.2" fill="#0000ff"/>
<rect x="707.95" y="-9.9" width="19.8" height="19.8" fill="none" stroke="#9400d3" stroke-width="0.75" stroke-opacity="0.52"/>
<rect x="732.6" y="-10.1" width="20.3" height="20.2" fill="#333333"/>
</g>
<g transform="translate(995.6 766.03) rotate(522.62)">
<rect x="584" y="-10.1" width="20.2" height="20.2" fill="#ff0000"/>
<rect x="608.75" y="-10.1" width="20.2" height="20.2" fill="#ff8000"/>
<rect x="633.7" y="-9.9" width="19.8" height="19.8" fill="none" stroke="#ffff00" stroke-width="0.75" stroke-opacity="0.52"/>
<rect x="658.25" y="-10.1" width="20.2" height="20.2" fill="#008000"/>
<rect x="683" y="-10.1" width="20.2" height="20.2" fill="#0000ff"/>
<rect x="707.95" y="-9.9" width="19.8" height="19.8" fill="none" stroke="#9400d3" stroke-width="0.75" stroke-opacity="0.52"/>
<rect x="732.6" y="-10.1" width="20.3" height="20.2" fill="#333333"/>
</g>
<g transform="translate(995.6 766.03) rotate(526.21)">
<rect x="584" y="-10.1" width="20.2" height="20.2" fill="#ff0000"/>
<rect x="608.75" y="-10.1" width="20.2" height="20.2" fill="#ff8000"/>
<rect x="633.7" y="-9.9" width="19.8" height="19.8" fill="none" stroke="#ffff00" stroke-width="0.75" stroke-opacity="0.52"/>
<rect x="658.25" y="-10.1" width="20.2" height="20.2" fill="#008000"/>
<rect x="683" y="-10.1" width="20.2" height="20.2" fill="#0000ff"/>
<rect x="707.95" y="-9.9" width="19.8" height="19.8" fill="none" stroke="#9400d3" stroke-width="0.75" stroke-opacity="0.52"/>
<rect x="732.6" y="-10.1" width="20.3" height="20.2" fill="#333333"/>
</g>
<g transform="translate(995.6 766.03) rotate(529.81)">
<rect x="584" y="-10.1" width="20.2" height="20.2" fill="#ff0000"/>
<rect x="608.75" y="-10.1" width="20.2" height="20.2" fill="#ff8000"/>
<rect x="633.7" y="-9.9" width="19.8" height="19.8" fill="none" stroke="#ffff00" stroke-width="0.75" stroke-opacity="0.52"/>
<rect x="658.25" y="-10.1" width="20.2" height="20.2" fill="#008000"/>
<rect x="683" y="-10.1" width="20.2" height="20.2" fill="#0000ff"/>
<rect x="707.95" y="-9.9" width="19.8" height="19.8" fill="none" stroke="#9400d3" stroke-width="0.75" stroke-opacity="0.52"/>
<rect x="732.6" y="-10.1" width="20.3" height="20.2" fill="#333333"/>
</g>
<g transform="translate(995.6 766.03) rotate(533.4)">
<rect x="584" y="-10.1" width="20.2" height="20.2" fill="#ff0000"/>
<rect x="608.75" y="-10.1" width="20.2" height="20.2" fill="#ff8000"/>
<rect x="633.7" y="-9.9" width="19.8" height="19.8" fill="none" stroke="#ffff00" stroke-width="0.75" stroke-opacity="0.52"/>
<rect x="658.25" y="-10.1" width="20.2" height="20.2" fill="#008000"/>
<rect x="683" y="-10.1" width="20.2" height="20.2" fill="#0000ff"/>
<rect x="707.95" y="-9.9" width="19.8" height="19.8" fill="none" stroke="#9400d3" stroke-width="0.75" stroke-opacity="0.52"/>
<rect x="732.6" y="-10.1" width="20.3" height="20.2" fill="#333333"/>
</g>
<g transform="translate(995.6 766.03) rotate(536.99)">
<rect x="584" y="-10.1" width="20.2" height="20.2" fill="#ff0000"/>
<rect x="608.75" y="-10.1" width="20.2" height="20.2" fill="#ff8000"/>
<rect x="633.7" y="-9.9" width="19.8" height="19.8" fill="none" stroke="#ffff00" stroke-width="0.75" stroke-opacity="0.52"/>
<rect x="658.25" y="-10.1" width="20.2" height="20.2" fill="#008000"/>
<rect x="683" y="-10.1" width="20.2" height="20.2" fill="#0000ff"/>
<rect x="707.95" y="-9.9" width="19.8" height="19.8" fill="none" stroke="#9400d3" stroke-width="0.75" stroke-opacity="0.52"/>
<rect x="732.6" y="-10.1" width="20.3" height="20.2" fill="#333333"/>
</g>
<g transform="translate(995.6 766.03) rotate(540.58)">
<rect x="584" y="-10.1" width="20.2" height="20.2" fill="#ff0000"/>
<rect x="608.75" y="-10.1" width="20.2" height="20.2" fill="#ff8000"/>
<rect x="633.7" y="-9.9" width="19.8" height="19.8" fill="none" stroke="#ffff00" stroke-width="0.75" stroke-opacity="0.52"/>
<rect x="658.25" y="-10.1" width="20.2" height="20.2" fill="#008000"/>
<rect x="683" y="-10.1" width="20.2" height="20.2" fill="#0000ff"/>
<rect x="707.95" y="-9.9" width="19.8" height="19.8" fill="none" stroke="#9400d3" stroke-width="0.75" stroke-opacity="0.52"/>
<rect x="732.6" y="-10.1" width="20.3" height="20.2" fill="#333333"/>
</g>
<g transform="translate(995.6 766.03) rotate(544.18)">
<rect x="584" y="-10.1" width="20.2" height="20.2" fill="#ff0000"/>
<rect x="608.75" y="-10.1" width="20.2" height="20.2" fill="#ff8000"/>
<rect x="633.7" y="-9.9" width="19.8" height="19.8" fill="none" stroke="#ffff00" stroke-width="0.75" stroke-opacity="0.52"/>
<rect x="658.25" y="-10.1" width="20.2" height="20.2" fill="#008000"/>
<rect x="683" y="-10.1" width="20.2" height="20.2" fill="#0000ff"/>
<rect x="707.95" y="-9.9" width="19.8" height="19.8" fill="none" stroke="#9400d3" stroke-width="0.75" stroke-opacity="0.52"/>
<rect x="732.6" y="-10.1" width="20.3" height="20.2" fill="#333333"/>
</g>
<g transform="translate(995.6 766.03) rotate(547.77)">
<rect x="584" y="-10.1" width="20.2" height="20.2" fill="#ff0000"/>
<rect x="608.75" y="-10.1" width="20.2" height="20.2" fill="#ff8000"/>
<rect x="633.7" y="-9.9" width="19.8" height="19.8" fill="none" stroke="#ffff00" stroke-width="0.75" stroke-opacity="0.52"/>
<rect x="658.25" y="-10.1" width="20.2" height="20.2" fill="#008000"/>
<rect x="683" y="-10.1" width="20.2" height="20.2" fill="#0000ff"/>
<rect x="707.95" y="-9.9" width="19.8" height="19.8" fill="none" stroke="#9400d3" stroke-width="0.75" stroke-opacity="0.52"/>
<rect x="732.6" y="-10.1" width="20.3" height="20.2" fill="#333333"/>
</g>
<g transform="translate(995.6 766.03) rotate(551.36)">
<rect x="584" y="-10.1" width="20.2" height="20.2" fill="#ff0000"/>
<rect x="608.75" y="-10.1" width="20.2" height="20.2" fill="#ff8000"/>
<rect x="633.7" y="-9.9" width="19.8" height="19.8" fill="none" stroke="#ffff00" stroke-width="0.75" stroke-opacity="0.52"/>
<rect x="658.25" y="-10.1" width="20.2" height="20.2" fill="#008000"/>
<rect x="683" y="-10.1" width="20.2" height="20.2" fill="#0000ff"/>
<rect x="707.95" y="-9.9" width="19.8" height="19.8" fill="none" stroke="#9400d3" stroke-width="0.75" stroke-opacity="0.52"/>
<rect x="732.6" y="-10.1" width="20.3" height="20.2" fill="#333333"/>
</g>
</g>
<g id="tree" fill="none" stroke="#000" stroke-width="2.4" stroke-linecap="butt">
<path d="M995.6 766.03L725.35 609.71"/>
<path d="M995.6 766.03L858.34 553.27"/>
<path d="M785.13 625.99A252.8 252.8 0 0 1 859.22 553.18"/>
<path d="M857.89 554.04A252.8 252.8 0 0 1 1056.55 520.69" stroke-width="2.0"/>
<path d="M857.14 551.42A255.4 255.4 0 0 1 954.35 513.99" stroke-width="2.0"/>
<path d="M954.8 516.75L953.36 507.97"/>
<path d="M953.86 511.03A258.4 258.4 0 0 1 1221.72 640.96" stroke-width="4.2"/>
<path d="M1221.26 639.73A258.6 258.6 0 0 1 1254.18 769.32"/>
<path d="M1255.08 769.33A259.5 259.5 0 0 1 1191.01 936.78" stroke-width="4.6"/>
<path d="M1192.27 935.94A259.9 259.9 0 0 1 1033.56 1023.15" stroke-width="2.4"/>
<path d="M1176.99 956.47A263 263 0 0 1 1033.19 1026.33" stroke-width="1.7"/>
<path d="M1034.84 1026.19A263.1 263.1 0 0 1 926.91 1020.01"/>
<path d="M1056.26 521.85L1057.44 517.1"/>
<path d="M785.3 626.1L751.67 603.72"/>
<path d="M802.4 603.31L774.18 579.54"/>
<path d="M765.1 590.87A289.5 289.5 0 0 1 787.56 564.72"/>
<path d="M773.98 576.98A291.3 291.3 0 0 1 786.9 562.81" stroke-width="4.2"/>
<path d="M785.4 562.63A292.5 292.5 0 0 1 800.6 548.02"/>
<path d="M787.75 562.37L784.18 558.87"/>
<path d="M765.9 591.48L763.91 589.97"/>
<path d="M838.71 568.06L827.78 554.27"/>
<path d="M858.66 553.77L843.43 530.16"/>
<path d="M835.38 535.55A280.7 280.7 0 0 1 850.14 525.96"/>
<path d="M836.07 536.53L824.08 519.29"/>
<path d="M850.76 526.99L843.35 514.76"/>
<path d="M880.48 528.12A264.3 264.3 0 0 1 1007.41 502"/>
<path d="M881 529.2L874.81 516.42"/>
<path d="M867.05 520.33A277.3 277.3 0 0 1 882.7 512.76"/>
<path d="M867.61 521.39L864.27 515.01"/>
<path d="M883.19 513.85L881.07 509.1"/>
<path d="M923.65 512.96L918.43 494.59"/>
<path d="M897.08 501.59A282.2 282.2 0 0 1 939.58 489.45"/>
<path d="M897.5 502.71L896.1 498.96"/>
<path d="M921.83 491.57A284.2 284.2 0 0 1 966.48 483.33"/>
<path d="M912.34 490.96A287.4 287.4 0 0 1 930.79 486.03" stroke-width="3"/>
<path d="M966.85 487.01L966.24 481.04"/>
<path d="M940.11 492.1L939.42 488.67"/>
<path d="M1007.36 503.2L1008.01 488.51"/>
<path d="M983.63 488.49A277.8 277.8 0 0 1 1053.75 494.39"/>
<path d="M983.69 489.69L983.02 474.3"/>
<path d="M1001.05 488.29L1001.22 479.79"/>
<path d="M1018.44 489.17L1020.13 468.74"/>
<path d="M1053.5 495.56L1054.63 490.28"/>
<path d="M1036.14 484.74A284.2 284.2 0 0 1 1255.1 650.16"/>
<path d="M1181.35 548.56A286 286 0 0 1 1196.53 562.51" stroke-width="5"/>
<path d="M1088.47 497.65L1089.32 495.19" stroke-width="1.6"/>
<path d="M1105.11 504L1106.11 501.6" stroke-width="1.6"/>
<path d="M1121.31 511.37L1122.47 509.04" stroke-width="1.6"/>
<path d="M1137.03 519.75L1138.32 517.5" stroke-width="1.6"/>
<path d="M1152.18 529.1L1153.61 526.93" stroke-width="1.6"/>
<path d="M1166.72 539.38L1168.29 537.3" stroke-width="1.6"/>
<path d="M1206.09 575.38L1208.02 573.63" stroke-width="1.6"/>
<path d="M1217.62 588.94L1219.66 587.32" stroke-width="1.6"/>
<path d="M1228.28 603.2L1230.41 601.71" stroke-width="1.6"/>
<path d="M1238.03 618.1L1240.25 616.75" stroke-width="1.6"/>
<path d="M1246.82 633.59L1249.12 632.37" stroke-width="1.6"/>
<path d="M1263.96 682.04A281.2 281.2 0 0 1 1266.81 840.31"/>
<path d="M1272.69 715.85A281.6 281.6 0 0 1 1277.2 766.26" stroke-width="3.8"/>
<path d="M1262.82 682.4L1271.02 679.83"/>
<path d="M1264.73 665.19A287.4 287.4 0 0 1 1278.96 718.01"/>
<path d="M1274.93 735.48L1281.4 734.78"/>
<path d="M1254.08 769.32L1276.78 769.61"/>
<path d="M1277.3 753L1287.09 752.55"/>
<path d="M1280.89 752.83A285.6 285.6 0 0 1 1280.81 780.94"/>
<path d="M1284.37 770.07A288.8 288.8 0 0 1 1283.39 790.14" stroke-width="3.6"/>
<path d="M1272.98 805.66L1282.29 806.99"/>
<path d="M1265.66 839.99L1275.78 842.76"/>
<path d="M1278.2 825.04A288.7 288.7 0 0 1 1226.12 939.84"/>
<path d="M1246.41 909.01L1250.32 911.24" stroke-width="2"/>
<path d="M1268.53 859.52L1270.9 860.33" stroke-width="1.6"/>
<path d="M1262.14 876.44L1264.45 877.4" stroke-width="1.6"/>
<path d="M1254.7 892.93L1256.94 894.03" stroke-width="1.6"/>
<path d="M1236.79 924.34L1238.88 925.71" stroke-width="1.6"/>
<path d="M1176.61 955.59L1191.74 971.43"/>
<path d="M1212.58 951.12A285.2 285.2 0 0 1 1159.41 999.49"/>
<path d="M1174.77 989.21A286.2 286.2 0 0 1 1166.96 995.26" stroke-width="5"/>
<path d="M1199.69 963.52L1206.31 969.92"/>
<path d="M1182.94 979.48L1185.57 982.49" stroke-width="2"/>
<path d="M1146.04 1008.8A285.6 285.6 0 0 1 973.55 1050.78"/>
<path d="M1144.5 1008.34L1148.74 1015.24"/>
<path d="M1088.03 1011.3L1096.74 1034.41"/>
<path d="M1131.27 1021.43A289.2 289.2 0 0 1 1114.18 1029.81"/>
<path d="M1130.71 1020.37L1132.59 1023.91"/>
<path d="M1121.61 1022.33L1123.73 1026.64"/>
<path d="M1097.11 1032.34A285 285 0 0 1 1056.56 1044.44" stroke-width="4"/>
<path d="M1010.05 1051.27A285.6 285.6 0 0 1 996.09 1051.63" stroke-width="4"/>
<path d="M1062.27 1043.74L1063.81 1050.16"/>
<path d="M1044.81 1046.75L1045.36 1049.9"/>
<path d="M1009.87 1051.28L1010.08 1055.47"/>
<path d="M1079.88 1038.29L1080.76 1041.15" stroke-width="2"/>
<path d="M927.17 1019.04L915.03 1063.93"/>
<path d="M953.48 1071.85A308.7 308.7 0 0 1 693.1 704.46" stroke-width="2.7"/>
<path d="M691.26 821.75A309.4 309.4 0 0 1 688.36 802.57" stroke-width="5"/>
<path d="M743.22 945.02A309.4 309.4 0 0 1 722.54 911.53" stroke-width="5"/>
<path d="M933.87 1068.29L933.37 1070.74" stroke-width="1.6"/>
<path d="M896.55 1058.2L895.75 1060.57" stroke-width="1.6"/>
<path d="M878.43 1051.42L877.48 1053.73" stroke-width="1.6"/>
<path d="M860.78 1043.51L859.69 1045.76" stroke-width="1.6"/>
<path d="M843.66 1034.52L842.43 1036.7" stroke-width="1.6"/>
<path d="M827.13 1024.47L825.77 1026.57" stroke-width="1.6"/>
<path d="M811.27 1013.41L809.77 1015.41" stroke-width="1.6"/>
<path d="M796.13 1001.37L794.51 1003.28" stroke-width="1.6"/>
<path d="M781.77 988.41L780.04 990.21" stroke-width="1.6"/>
<path d="M768.26 974.57L766.42 976.26" stroke-width="1.6"/>
<path d="M755.64 959.91L753.69 961.49" stroke-width="1.6"/>
<path d="M715.02 894.29L712.75 895.33" stroke-width="1.6"/>
<path d="M707.54 876.45L705.2 877.35" stroke-width="1.6"/>
<path d="M701.18 858.18L698.8 858.93" stroke-width="1.6"/>
<path d="M687.53 782.23L685.03 782.36" stroke-width="1.6"/>
<path d="M687.12 762.89L684.62 762.86" stroke-width="1.6"/>
<path d="M687.92 743.56L685.43 743.38" stroke-width="1.6"/>
<path d="M689.93 724.33L687.46 723.99" stroke-width="1.6"/>
</g>
<g id="labels" font-family="'Liberation Serif', serif" font-size="12.5" fill="#000" style="font-variant-ligatures:none">
<text transform="translate(995.6 766.03) rotate(390.05)" y="4.12" x="-540.75 -531.88 -522.27 -514.88 -507.48 -503.78 -494.18 -486.78 -480.13 -473.48 -469.79 -463.14 -460.18 -452.79 -445.39 -437.99 -430.6 -426.9 -419.5 -415.07 -407.68 -400.28 -392.88 -386.23 -378.84 -375.14 -366.27 -362.58 -355.18 -347.78 -340.39 -332.99 -329.29 -321.9">KR40 Duck slaughterhouse A 2011.07</text>
<text transform="translate(995.6 766.03) rotate(393.64)" y="4.12" x="-541.48 -532.61 -523.01 -515.61 -508.21 -504.52 -494.91 -487.52 -480.87 -474.22 -470.52 -463.87 -460.92 -453.52 -446.12 -438.73 -431.33 -427.63 -420.24 -415.81 -408.41 -401.01 -393.62 -386.97 -379.57 -375.88 -366.27 -362.58 -355.18 -347.78 -340.39 -332.99 -329.29 -321.9">KR43 Duck slaughterhouse C 2011.07</text>
<text transform="translate(995.6 766.03) rotate(397.23)" y="4.12" x="-483.09 -474.22 -464.61 -457.22 -453.52 -444.65 -441.69 -434.3 -426.9 -419.5 -412.11 -408.41 -401.01 -396.59 -389.19 -381.79 -374.4 -367.75 -360.35 -356.65 -347.78 -344.09 -336.69 -329.29 -321.9">KR4 Slaughterhouse A 2010</text>
<text transform="translate(995.6 766.03) rotate(400.82)" y="4.12" x="-531.86 -522.99 -513.38 -505.99 -498.59 -494.89 -485.29 -477.89 -474.2 -466.8 -463.85 -460.89 -457.2 -450.55 -443.15 -440.19 -433.54 -426.89 -419.5 -412.1 -408.41 -397.33 -389.93 -382.53 -378.84 -375.14 -366.27 -362.58 -355.18 -347.78 -340.39 -332.99 -329.29 -321.9">KR29 Retail chicken meat E 2011.03</text>
<text transform="translate(995.6 766.03) rotate(404.42)" y="4.12" x="-532.59 -523.72 -514.12 -506.72 -499.32 -495.63 -486.02 -478.63 -474.93 -467.53 -464.58 -461.62 -457.93 -451.28 -443.88 -440.93 -434.28 -427.63 -420.23 -412.83 -409.14 -398.06 -390.66 -383.27 -379.57 -375.88 -366.27 -362.58 -355.18 -347.78 -340.39 -332.99 -329.29 -321.9">KR25 Retail chicken meat D 2011.05</text>
<text transform="translate(995.6 766.03) rotate(408.01)" y="4.12" x="-532.59 -523.72 -514.12 -506.72 -499.32 -495.63 -486.02 -478.63 -474.93 -467.53 -464.58 -461.62 -457.93 -451.28 -443.88 -440.93 -434.28 -427.63 -420.23 -412.83 -409.14 -398.06 -390.66 -383.27 -379.57 -375.88 -366.27 -362.58 -355.18 -347.78 -340.39 -332.99 -329.29 -321.9">KR26 Retail chicken meat D 2011.06</text>
<text transform="translate(995.6 766.03) rotate(411.6)" y="4.12" x="-490.48 -481.61 -472.01 -464.61 -457.22 -453.52 -444.65 -441.69 -434.3 -426.9 -419.5 -412.11 -408.41 -401.01 -396.59 -389.19 -381.79 -374.4 -367.75 -360.35 -356.65 -347.78 -344.09 -336.69 -329.29 -321.9">KR44 Slaughterhouse B 2010</text>
<text transform="translate(995.6 766.03) rotate(415.2)" y="4.12" x="-532.59 -523.72 -514.12 -506.72 -499.32 -495.63 -486.02 -478.63 -474.93 -467.53 -464.58 -461.62 -457.93 -451.28 -443.88 -440.93 -434.28 -427.63 -420.23 -412.83 -409.14 -398.06 -390.66 -383.27 -379.57 -375.88 -366.27 -362.58 -355.18 -347.78 -340.39 -332.99 -329.29 -321.9">KR19 Retail chicken meat C 2011.09</text>
<text transform="translate(995.6 766.03) rotate(418.79)" y="4.12" x="-490.48 -481.61 -472.01 -464.61 -457.22 -453.52 -444.65 -441.69 -434.3 -426.9 -419.5 -412.11 -408.41 -401.01 -396.59 -389.19 -381.79 -374.4 -367.75 -360.35 -356.65 -347.78 -344.09 -336.69 -329.29 -321.9">KR45 Slaughterhouse B 2010</text>
<text transform="translate(995.6 766.03) rotate(422.38)" y="4.12" x="-418 -409.13 -399.52 -392.12 -384.73 -381.03 -372.91 -368.48 -361.08 -354.43 -347.78 -344.09 -336.69 -329.29 -321.9">KR51 Truck 2010</text>
<text transform="translate(995.6 766.03) rotate(425.97)" y="4.12" x="-510.45 -501.58 -491.97 -484.58 -477.18 -473.48 -464.61 -461.66 -454.26 -446.86 -439.47 -432.07 -428.37 -420.98 -416.55 -409.15 -401.76 -394.36 -387.71 -380.31 -376.62 -366.27 -362.58 -355.18 -347.78 -340.39 -332.99 -329.29 -321.9">KR53 Slaughterhouse G 2011.04</text>
<text transform="translate(995.6 766.03) rotate(429.57)" y="4.12" x="-532.59 -523.72 -514.12 -506.72 -499.32 -495.63 -486.02 -478.63 -474.93 -467.53 -464.58 -461.62 -457.93 -451.28 -443.88 -440.93 -434.28 -427.63 -420.23 -412.83 -409.14 -398.06 -390.66 -383.27 -379.57 -375.88 -366.27 -362.58 -355.18 -347.78 -340.39 -332.99 -329.29 -321.9">KR21 Retail chicken meat D 2011.02</text>
<text transform="translate(995.6 766.03) rotate(433.16)" y="4.12" x="-491.22 -482.35 -472.74 -465.35 -457.95 -454.25 -445.38 -442.43 -435.03 -427.63 -420.24 -412.84 -409.15 -401.75 -397.32 -389.92 -382.53 -375.13 -368.48 -361.08 -357.39 -347.78 -344.09 -336.69 -329.29 -321.9">KR32 Slaughterhouse D 2011</text>
<text transform="translate(995.6 766.03) rotate(436.75)" y="4.12" x="-490.48 -481.61 -472.01 -464.61 -457.22 -453.52 -444.65 -441.69 -434.3 -426.9 -419.5 -412.11 -408.41 -401.01 -396.59 -389.19 -381.79 -374.4 -367.75 -360.35 -356.65 -347.78 -344.09 -336.69 -329.29 -321.9">KR36 Slaughterhouse E 2011</text>
<text transform="translate(995.6 766.03) rotate(440.35)" y="4.12" x="-489.73 -480.86 -471.26 -463.86 -456.46 -452.77 -449.07 -441.67 -437.98 -430.58 -420.98 -413.58 -409.89 -403.24 -395.84 -388.44 -384.01 -377.36 -373.67 -366.27 -362.58 -355.18 -347.78 -340.39 -332.99 -329.29 -321.9">KR54 Int_Hatchery 2 2011.05</text>
<text transform="translate(995.6 766.03) rotate(443.94)" y="4.12" x="-532.59 -523.72 -514.12 -506.72 -499.32 -495.63 -486.02 -478.63 -474.93 -467.53 -464.58 -461.62 -457.93 -451.28 -443.88 -440.93 -434.28 -427.63 -420.23 -412.83 -409.14 -398.06 -390.66 -383.27 -379.57 -375.88 -366.27 -362.58 -355.18 -347.78 -340.39 -332.99 -329.29 -321.9">KR20 Retail chicken meat D 2011.02</text>
<text transform="translate(995.6 766.03) rotate(447.53)" y="4.12" x="-443.88 -435.01 -425.41 -418.01 -410.61 -403.22 -399.52 -391.4 -386.97 -379.57 -372.92 -366.27 -362.58 -355.18 -347.78 -340.39 -332.99 -329.29 -321.9">KR105 Truck 2012.06</text>
<text transform="translate(995.6 766.03) rotate(271.12)" y="4.12" x="314.5 323.37 332.98 340.37 347.77 351.46 361.07 368.47 375.12 381.77 385.46 392.11 395.07 402.46 409.86 417.26 424.65 428.35 435.75 440.17 447.57 454.97 462.37 469.02 476.41 480.11 488.98 492.67 500.07 507.47 514.86 522.26 525.96 533.35">KR41 Duck slaughterhouse B 2011.07</text>
<text transform="translate(995.6 766.03) rotate(274.72)" y="4.12" x="314.5 323.37 332.98 340.37 347.77 351.46 361.07 368.47 371.42 378.07 384.72 392.12 399.51 403.21 406.91 414.3 418.73 429.81 433.51 440.9 448.3 455.7">KR83 Chicken farm 2014</text>
<text transform="translate(995.6 766.03) rotate(278.31)" y="4.12" x="314.5 323.37 332.98 340.37 347.77 351.46 360.34 363.29 370.69 378.08 385.48 392.88 396.57 403.97 408.4 415.8 423.19 430.59 437.24 444.64 448.33 457.94 461.63 469.03 476.42 483.82">KR47 Slaughterhouse C 2010</text>
<text transform="translate(995.6 766.03) rotate(281.9)" y="4.12" x="314.5 323.37 332.98 340.37 347.77 351.46 360.34 363.29 370.69 378.08 385.48 392.88 396.57 403.97 408.4 415.8 423.19 430.59 437.24 444.64 448.33 457.94 461.63 469.03 476.42 483.82">KR48 Slaughterhouse C 2010</text>
<text transform="translate(995.6 766.03) rotate(285.5)" y="4.12" x="314.5 323.37 332.98 340.37 347.77 351.46 360.34 363.29 370.69 378.08 385.48 392.88 396.57 403.97 408.4 415.8 423.19 430.59 437.24 444.64 448.33 457.94 461.63 469.03 476.42 483.82">KR46 Slaughterhouse C 2010</text>
<text transform="translate(995.6 766.03) rotate(289.09)" y="4.12" x="314.5 323.37 332.98 340.37 347.77 351.46 360.34 363.29 370.69 378.08 385.48 392.88 396.57 403.97 408.4 415.8 423.19 430.59 437.24 444.64 448.33 457.94 461.63 469.03 476.42 483.82">KR49 Slaughterhouse C 2010</text>
<text transform="translate(995.6 766.03) rotate(292.68)" y="4.12" x="314.5 323.37 332.98 340.37 347.77 351.46 360.34 363.29 370.69 378.08 385.48 392.88 396.57 403.97 408.4 415.8 423.19 430.59 437.24 444.64 448.33 457.94 461.63 469.03 476.42 483.82">KR50 Slaughterhouse C 2010</text>
<text transform="translate(995.6 766.03) rotate(296.27)" y="4.12" x="314.5 323.37 332.98 340.37 347.77 351.46 361.07 368.47 372.16 379.56 382.51 385.47 389.16 395.81 403.21 406.16 412.81 419.46 426.86 434.26 437.95 449.03 456.43 463.83 467.52 471.22 480.09 483.78 491.18 498.58 505.97 513.37 517.07 524.46">KR17 Retail chicken meat B 2011.04</text>
<text transform="translate(995.6 766.03) rotate(299.87)" y="4.12" x="314.5 323.37 332.98 340.37 347.77 351.46 360.34 363.29 370.69 378.08 385.48 392.88 396.57 403.97 408.4 415.8 423.19 430.59 437.24 444.64 448.33 457.94 461.63 469.03 476.42 483.82">KR34 Slaughterhouse D 2011</text>
<text transform="translate(995.6 766.03) rotate(303.46)" y="4.12" x="314.5 323.37 332.98 340.37 347.77 351.46 361.07 368.47 372.16 379.56 382.51 385.47 389.16 395.81 403.21 406.16 412.81 419.46 426.86 434.26 437.95 449.03 456.43 463.83 467.52 471.22 480.82 484.52 491.91 499.31 506.71 514.1 517.8 525.2">KR23 Retail chicken meat D 2011.03</text>
<text transform="translate(995.6 766.03) rotate(307.05)" y="4.12" x="314.5 323.37 332.98 340.37 347.77 351.46 361.07 368.47 372.16 379.56 382.51 385.47 389.16 395.81 403.21 406.16 412.81 419.46 426.86 434.26 437.95 449.03 456.43 463.83 467.52 471.22 480.09 483.78 491.18 498.58 505.97 513.37 517.07 524.46">KR16 Retail chicken meat B 2011.03</text>
<text transform="translate(995.6 766.03) rotate(310.64)" y="4.12" x="314.5 323.37 332.98 340.37 347.77 351.46 361.07 368.47 372.16 379.56 382.51 385.47 389.16 395.81 403.21 406.16 412.81 419.46 426.86 434.26 437.95 449.03 456.43 463.83 467.52 471.22 480.82 484.52 491.91 499.31 506.71 514.1 517.8 525.2">KR22 Retail chicken meat D 2011.03</text>
<text transform="translate(995.6 766.03) rotate(314.24)" y="4.12" x="314.5 323.37 332.98 340.37 347.77 351.46 360.34 363.29 370.69 378.08 385.48 392.88 396.57 403.97 408.4 415.8 423.19 430.59 437.24 444.64 448.33 456.46 460.15 467.55 474.94 482.34">KR39 Slaughterhouse F 2011</text>
<text transform="translate(995.6 766.03) rotate(317.83)" y="4.12" x="314.5 323.37 332.98 340.37 347.77 351.46 360.34 363.29 370.69 378.08 385.48 392.88 396.57 403.97 408.4 415.8 423.19 430.59 437.24 444.64 448.33 457.94 461.63 469.03 476.42 483.82">KR33 Slaughterhouse D 2011</text>
<text transform="translate(995.6 766.03) rotate(321.42)" y="4.12" x="314.5 323.37 332.98 340.37 347.77 351.46 360.34 363.29 370.69 378.08 385.48 392.88 396.57 403.97 408.4 415.8 423.19 430.59 437.24 444.64 448.33 457.94 461.63 469.03 476.42 483.82">KR30 Slaughterhouse D 2011</text>
<text transform="translate(995.6 766.03) rotate(325.02)" y="4.12" x="314.5 323.37 332.98 340.37 347.77 351.46 360.34 363.29 370.69 378.08 385.48 392.88 396.57 403.97 408.4 415.8 423.19 430.59 437.24 444.64 448.33 457.94 461.63 469.03 476.42 483.82">KR31 Slaughterhouse D 2011</text>
<text transform="translate(995.6 766.03) rotate(328.61)" y="4.12" x="314.5 323.37 332.98 340.37 347.77 351.46 361.07 368.47 372.16 379.56 382.51 385.47 389.16 395.81 403.21 406.16 412.81 419.46 426.86 434.26 437.95 449.03 456.43 463.83 467.52 471.22 480.09 483.78 491.18 498.58 505.97 513.37 517.07 524.46">KR18 Retail chicken meat B 2011.04</text>
<text transform="translate(995.6 766.03) rotate(332.2)" y="4.12" x="314.5 323.37 332.98 340.37 347.77 351.46 361.07 368.47 372.16 379.56 382.51 385.47 389.16 395.81 403.21 406.16 412.81 419.46 426.86 434.26 437.95 449.03 456.43 463.83 467.52 471.22 480.09 483.78 491.18 498.58 505.97 513.37 517.07 524.46">KR14 Retail chicken meat B 2011.04</text>
<text transform="translate(995.6 766.03) rotate(335.79)" y="4.12" x="314.5 323.37 332.98 340.37 347.77 351.46 361.07 368.47 372.16 379.56 382.51 385.47 389.16 395.81 403.21 406.16 412.81 419.46 426.86 434.26 437.95 449.03 456.43 463.83 467.52 471.22 480.09 483.78 491.18 498.58 505.97 513.37 517.07 524.46">KR15 Retail chicken meat B 2011.03</text>
<text transform="translate(995.6 766.03) rotate(339.39)" y="4.12" x="314.5 323.37 332.98 340.37 347.77 351.46 361.07 368.47 371.42 378.07 384.72 392.12 399.51 403.21 406.91 414.3 418.73 429.81 433.51 440.9 448.3 455.7">KR86 Chicken farm 2015</text>
<text transform="translate(995.6 766.03) rotate(342.98)" y="4.12" x="314.5 323.37 332.98 340.37 347.77 355.17 358.86 366.99 371.41 378.81 385.46 392.11 395.81 403.2 410.6 418 425.39 429.09 436.49">KR103 Truck 2012.04</text>
<text transform="translate(995.6 766.03) rotate(346.57)" y="4.12" x="314.5 323.37 332.98 340.37 347.77 351.46 359.59 364.02 371.41 378.06 384.71 388.41 395.81 403.2 410.6 418 421.69 429.09">KR99 Truck 2012.04</text>
<text transform="translate(995.6 766.03) rotate(350.17)" y="4.12" x="314.5 323.37 332.98 340.37 347.77 355.17 358.86 366.99 371.41 378.81 385.46 392.11 395.81 403.2 410.6 418 425.39 429.09 436.49">KR102 Truck 2012.04</text>
<text transform="translate(995.6 766.03) rotate(353.76)" y="4.12" x="314.5 323.37 332.98 340.37 347.77 355.17 358.86 366.99 371.41 378.81 385.46 392.11 395.81 403.2 410.6 418 425.39 429.09 436.49">KR104 Truck 2012.04</text>
<text transform="translate(995.6 766.03) rotate(357.35)" y="4.12" x="314.5 323.37 332.98 340.37 344.07 353.67 361.07 364.76 372.16 375.12 378.07 381.77 388.42 395.81 398.77 405.42 412.07 419.46 426.86 430.56 441.64 449.03 456.43 460.12 463.82 472.69 476.39 483.78 491.18 498.58 505.97 509.67 517.07">KR9 Retail chicken meat A 2011.07</text>
<text transform="translate(995.6 766.03) rotate(0.94)" y="4.12" x="314.5 323.37 332.98 340.37 344.07 353.67 361.07 364.76 372.16 375.12 378.07 381.77 388.42 395.81 398.77 405.42 412.07 419.46 426.86 430.56 441.64 449.03 456.43 460.12 463.82 472.69 476.39 483.78 491.18 498.58 505.97 509.67 517.07">KR5 Retail chicken meat A 2011.05</text>
<text transform="translate(995.6 766.03) rotate(4.54)" y="4.12" x="314.5 323.37 332.98 340.37 344.07 353.67 361.07 364.76 372.16 375.12 378.07 381.77 388.42 395.81 398.77 405.42 412.07 419.46 426.86 430.56 441.64 449.03 456.43 460.12 463.82 472.69 476.39 483.78 491.18 498.58 505.97 509.67 517.07">KR6 Retail chicken meat A 2011.06</text>
<text transform="translate(995.6 766.03) rotate(8.13)" y="4.12" x="314.5 323.37 332.98 340.37 347.77 355.17 358.86 366.99 371.41 378.81 385.46 392.11 395.81 403.2 410.6 418 425.39 429.09 436.49">KR100 Truck 2012.04</text>
<text transform="translate(995.6 766.03) rotate(11.72)" y="4.12" x="314.5 323.37 332.98 340.37 344.07 353.67 361.07 364.76 372.16 375.12 378.07 381.77 388.42 395.81 398.77 405.42 412.07 419.46 426.86 430.56 441.64 449.03 456.43 460.12 463.82 472.69 476.39 483.78 491.18 498.58 505.97 509.67 517.07">KR2 Retail chicken meat A 2011.04</text>
<text transform="translate(995.6 766.03) rotate(15.32)" y="4.12" x="314.5 323.37 332.98 340.37 347.77 351.46 361.07 368.47 372.16 379.56 382.51 385.47 389.16 395.81 403.21 406.16 412.81 419.46 426.86 434.26 437.95 449.03 456.43 463.83 467.52 471.22 480.09 483.78 491.18 498.58 505.97 513.37 517.07 524.46">KR12 Retail chicken meat A 2011.08</text>
<text transform="translate(995.6 766.03) rotate(18.91)" y="4.12" x="314.5 323.37 332.98 340.37 344.07 353.67 361.07 364.76 372.16 375.12 378.07 381.77 388.42 395.81 398.77 405.42 412.07 419.46 426.86 430.56 441.64 449.03 456.43 460.12 463.82 472.69 476.39 483.78 491.18 498.58 505.97 509.67 517.07">KR3 Retail chicken meat A 2011.04</text>
<text transform="translate(995.6 766.03) rotate(22.5)" y="4.12" x="314.5 323.37 332.98 340.37 344.07 353.67 361.07 364.76 372.16 375.12 378.07 381.77 388.42 395.81 398.77 405.42 412.07 419.46 426.86 430.56 441.64 449.03 456.43 460.12 463.82 472.69 476.39 483.78 491.18 498.58 505.97 509.67 517.07">KR1 Retail chicken meat A 2011.04</text>
<text transform="translate(995.6 766.03) rotate(26.09)" y="4.12" x="314.5 323.37 332.98 340.37 347.77 351.46 361.07 368.47 372.16 379.56 382.51 385.47 389.16 395.81 403.21 406.16 412.81 419.46 426.86 434.26 437.95 449.03 456.43 463.83 467.52 471.22 480.09 483.78 491.18 498.58 505.97 513.37 517.07 524.46">KR11 Retail chicken meat A 2011.08</text>
<text transform="translate(995.6 766.03) rotate(29.69)" y="4.12" x="314.5 323.37 332.98 340.37 347.77 351.46 361.07 368.47 372.16 379.56 382.51 385.47 389.16 395.81 403.21 406.16 412.81 419.46 426.86 434.26 437.95 449.03 456.43 463.83 467.52 471.22 480.09 483.78 491.18 498.58 505.97 513.37 517.07 524.46">KR10 Retail chicken meat A 2011.08</text>
<text transform="translate(995.6 766.03) rotate(33.28)" y="4.12" x="314.5 323.37 332.98 340.37 344.07 353.67 361.07 364.76 372.16 375.12 378.07 381.77 388.42 395.81 398.77 405.42 412.07 419.46 426.86 430.56 441.64 449.03 456.43 460.12 463.82 472.69 476.39 483.78 491.18 498.58 505.97 509.67 517.07">KR8 Retail chicken meat A 2011.07</text>
<text transform="translate(995.6 766.03) rotate(36.87)" y="4.12" x="314.5 323.37 332.98 340.37 344.07 353.67 361.07 364.76 372.16 375.12 378.07 381.77 388.42 395.81 398.77 405.42 412.07 419.46 426.86 430.56 441.64 449.03 456.43 460.12 463.82 472.69 476.39 483.78 491.18 498.58 505.97 509.67 517.07">KR7 Retail chicken meat A 2011.07</text>
<text transform="translate(995.6 766.03) rotate(40.46)" y="4.12" x="314.5 323.37 332.98 340.37 347.77 351.46 361.07 368.47 372.16 379.56 382.51 385.47 389.16 395.81 403.21 406.16 412.81 419.46 426.86 434.26 437.95 449.03 456.43 463.83 467.52 471.22 480.09 483.78 491.18 498.58 505.97 513.37 517.07 524.46">KR13 Retail chicken meat B 2011.02</text>
<text transform="translate(995.6 766.03) rotate(44.06)" y="4.12" x="314.5 323.37 332.98 340.37 347.77 351.46 360.34 363.29 370.69 378.08 385.48 392.88 396.57 403.97 408.4 415.8 423.19 430.59 437.24 444.64 448.33 458.68 462.37 469.77 477.17 484.56 491.96 495.65 503.05">KR96 Slaughterhouse G 2012.03</text>
<text transform="translate(995.6 766.03) rotate(47.65)" y="4.12" x="314.5 323.37 332.98 340.37 347.77 351.46 361.07 368.47 372.16 379.56 382.51 385.47 389.16 395.81 403.21 406.16 412.81 419.46 426.86 434.26 437.95 449.03 456.43 463.83 467.52 471.22 480.82 484.52 491.91 499.31 506.71 514.1 517.8 525.2">KR24 Retail chicken meat D 2011.03</text>
<text transform="translate(995.6 766.03) rotate(51.24)" y="4.12" x="314.5 323.37 332.98 340.37 347.77 351.46 361.07 368.47 372.16 379.56 382.51 385.47 389.16 395.81 403.21 406.16 412.81 419.46 426.86 434.26 437.95 449.03 456.43 463.83 467.52 471.22 480.82 484.52 491.91 499.31 506.71 514.1 517.8 525.2">KR27 Retail chicken meat D 2011.09</text>
<text transform="translate(995.6 766.03) rotate(54.84)" y="4.12" x="314.5 323.37 332.98 340.37 347.77 351.46 361.07 368.47 372.16 379.56 382.51 385.47 389.16 395.81 403.21 406.16 412.81 419.46 426.86 434.26 437.95 449.03 456.43 463.83 467.52 471.22 480.82 484.52 491.91 499.31 506.71 514.1 517.8 525.2">KR28 Retail chicken meat D 2011.09</text>
<text transform="translate(995.6 766.03) rotate(58.43)" y="4.12" x="314.5 323.37 332.98 340.37 347.77 351.46 361.07 368.47 372.16 378.81 386.21 393.61 398.03 404.68 408.38 415.78 423.17 430.57">KR88 Hatchery 2015</text>
<text transform="translate(995.6 766.03) rotate(62.02)" y="4.12" x="314.5 323.37 332.98 340.37 347.77 351.46 361.07 368.47 375.12 381.77 385.46 389.16 396.55 400.98 412.06 415.76 423.15 430.55 437.95">KR90 Duck farm 2016</text>
<text transform="translate(995.6 766.03) rotate(65.61)" y="4.12" x="314.5 323.37 332.98 340.37 347.77 351.46 361.07 368.47 371.42 378.07 384.72 392.12 399.51 403.21 406.91 414.3 418.73 429.81 433.51 440.9 448.3 455.7">KR92 Chicken farm 2017</text>
<text transform="translate(995.6 766.03) rotate(69.21)" y="4.12" x="314.5 323.37 332.98 340.37 347.77 351.46 361.07 368.47 371.42 378.07 384.72 392.12 399.51 403.21 406.91 414.3 418.73 429.81 433.51 440.9 448.3 455.7">KR94 Chicken farm 2017</text>
<text transform="translate(995.6 766.03) rotate(72.8)" y="4.12" x="314.5 323.37 332.98 340.37 347.77 351.46 361.07 368.47 371.42 378.07 384.72 392.12 399.51 403.21 406.91 414.3 418.73 429.81 433.51 440.9 448.3 455.7">KR91 Chicken farm 2016</text>
<text transform="translate(995.6 766.03) rotate(76.39)" y="4.12" x="314.5 323.37 332.98 340.37 347.77 351.46 360.34 363.29 370.69 378.08 385.48 392.88 396.57 403.97 408.4 415.8 423.19 430.59 437.24 444.64 448.33 458.68 462.37 469.77 477.17 484.56 491.96 495.65 503.05">KR97 Slaughterhouse G 2012.03</text>
<text transform="translate(995.6 766.03) rotate(79.99)" y="4.12" x="314.5 323.37 332.98 340.37 347.77 351.46 361.07 368.47 371.42 378.07 384.72 392.12 399.51 403.21 406.91 414.3 418.73 429.81 433.51 440.9 448.3 455.7">KR87 Chicken farm 2015</text>
<text transform="translate(995.6 766.03) rotate(83.58)" y="4.12" x="314.5 323.37 332.98 340.37 347.77 351.46 361.07 368.47 371.42 378.07 384.72 392.12 399.51 403.21 406.91 414.3 418.73 429.81 433.51 440.9 448.3 455.7">KR93 Chicken farm 2017</text>
<text transform="translate(995.6 766.03) rotate(87.17)" y="4.12" x="314.5 323.37 332.98 340.37 347.77 351.46 361.07 368.47 371.42 378.07 384.72 392.12 399.51 403.21 406.91 414.3 418.73 429.81 433.51 440.9 448.3 455.7">KR81 Chicken farm 2013</text>
<text transform="translate(995.6 766.03) rotate(270.76)" y="4.12" x="-443.88 -435.01 -425.41 -418.01 -410.61 -403.22 -399.52 -391.4 -386.97 -379.57 -372.92 -366.27 -362.58 -355.18 -347.78 -340.39 -332.99 -329.29 -321.9">KR101 Truck 2012.04</text>
<text transform="translate(995.6 766.03) rotate(274.36)" y="4.12" x="-467.52 -458.65 -449.05 -441.65 -434.25 -430.56 -420.95 -413.56 -410.6 -403.95 -397.3 -389.9 -382.51 -378.81 -370.69 -363.29 -358.86 -347.78 -344.09 -336.69 -329.29 -321.9">KR82 Chicken Farm 2013</text>
<text transform="translate(995.6 766.03) rotate(277.95)" y="4.12" x="-467.54 -458.67 -449.07 -441.67 -434.27 -430.58 -426.88 -419.48 -415.79 -408.39 -400.27 -392.87 -388.44 -377.36 -373.67 -366.27 -362.58 -355.18 -347.78 -340.39 -332.99 -329.29 -321.9">KR55 Int_Farm 1 2011.05</text>
<text transform="translate(995.6 766.03) rotate(281.54)" y="4.12" x="-464.6 -455.73 -446.12 -438.73 -431.33 -427.63 -423.94 -416.54 -412.85 -405.45 -395.11 -386.23 -377.36 -373.67 -366.27 -362.58 -355.18 -347.78 -340.39 -332.99 -329.29 -321.9">KR57 Int_GPS 1 2017.05</text>
<text transform="translate(995.6 766.03) rotate(285.14)" y="4.12" x="-464.6 -455.73 -446.12 -438.73 -431.33 -427.63 -423.94 -416.54 -412.85 -405.45 -395.11 -386.23 -377.36 -373.67 -366.27 -362.58 -355.18 -347.78 -340.39 -332.99 -329.29 -321.9">KR71 Int_GPS 2 2017.05</text>
<text transform="translate(995.6 766.03) rotate(288.73)" y="4.12" x="-464.6 -455.73 -446.12 -438.73 -431.33 -427.63 -423.94 -416.54 -412.85 -405.45 -395.11 -386.23 -377.36 -373.67 -366.27 -362.58 -355.18 -347.78 -340.39 -332.99 -329.29 -321.9">KR58 Int_GPS 1 2017.05</text>
<text transform="translate(995.6 766.03) rotate(292.32)" y="4.12" x="-467.54 -458.67 -449.07 -441.67 -434.27 -430.58 -426.88 -419.48 -415.79 -408.39 -400.27 -392.87 -388.44 -377.36 -373.67 -366.27 -362.58 -355.18 -347.78 -340.39 -332.99 -329.29 -321.9">KR56 Int_Farm 2 2011.05</text>
<text transform="translate(995.6 766.03) rotate(295.91)" y="4.12" x="-464.6 -455.73 -446.12 -438.73 -431.33 -427.63 -423.94 -416.54 -412.85 -405.45 -395.11 -386.23 -377.36 -373.67 -366.27 -362.58 -355.18 -347.78 -340.39 -332.99 -329.29 -321.9">KR75 Int_GPS 2 2017.05</text>
<text transform="translate(995.6 766.03) rotate(299.51)" y="4.12" x="-464.6 -455.73 -446.12 -438.73 -431.33 -427.63 -423.94 -416.54 -412.85 -405.45 -395.11 -386.23 -377.36 -373.67 -366.27 -362.58 -355.18 -347.78 -340.39 -332.99 -329.29 -321.9">KR76 Int_GPS 2 2017.05</text>
<text transform="translate(995.6 766.03) rotate(303.1)" y="4.12" x="-489.73 -480.86 -471.26 -463.86 -456.46 -452.77 -449.07 -441.67 -437.98 -430.58 -420.98 -413.58 -409.89 -403.24 -395.84 -388.44 -384.01 -377.36 -373.67 -366.27 -362.58 -355.18 -347.78 -340.39 -332.99 -329.29 -321.9">KR77 Int_Hatchery 1 2017.05</text>
<text transform="translate(995.6 766.03) rotate(306.69)" y="4.12" x="-464.6 -455.73 -446.12 -438.73 -431.33 -427.63 -423.94 -416.54 -412.85 -405.45 -395.11 -386.23 -377.36 -373.67 -366.27 -362.58 -355.18 -347.78 -340.39 -332.99 -329.29 -321.9">KR61 Int_GPS 2 2017.05</text>
<text transform="translate(995.6 766.03) rotate(310.28)" y="4.12" x="-464.6 -455.73 -446.12 -438.73 -431.33 -427.63 -423.94 -416.54 -412.85 -405.45 -395.11 -386.23 -377.36 -373.67 -366.27 -362.58 -355.18 -347.78 -340.39 -332.99 -329.29 -321.9">KR64 Int_GPS 2 2017.05</text>
<text transform="translate(995.6 766.03) rotate(313.88)" y="4.12" x="-464.6 -455.73 -446.12 -438.73 -431.33 -427.63 -423.94 -416.54 -412.85 -405.45 -395.11 -386.23 -377.36 -373.67 -366.27 -362.58 -355.18 -347.78 -340.39 -332.99 -329.29 -321.9">KR60 Int_GPS 2 2017.05</text>
<text transform="translate(995.6 766.03) rotate(317.47)" y="4.12" x="-464.6 -455.73 -446.12 -438.73 -431.33 -427.63 -423.94 -416.54 -412.85 -405.45 -395.11 -386.23 -377.36 -373.67 -366.27 -362.58 -355.18 -347.78 -340.39 -332.99 -329.29 -321.9">KR70 Int_GPS 2 2017.05</text>
<text transform="translate(995.6 766.03) rotate(321.06)" y="4.12" x="-464.6 -455.73 -446.12 -438.73 -431.33 -427.63 -423.94 -416.54 -412.85 -405.45 -395.11 -386.23 -377.36 -373.67 -366.27 -362.58 -355.18 -347.78 -340.39 -332.99 -329.29 -321.9">KR62 Int_GPS 2 2017.05</text>
<text transform="translate(995.6 766.03) rotate(324.66)" y="4.12" x="-464.6 -455.73 -446.12 -438.73 -431.33 -427.63 -423.94 -416.54 -412.85 -405.45 -395.11 -386.23 -377.36 -373.67 -366.27 -362.58 -355.18 -347.78 -340.39 -332.99 -329.29 -321.9">KR66 Int_GPS 1 2017.05</text>
<text transform="translate(995.6 766.03) rotate(328.25)" y="4.12" x="-463.09 -454.22 -444.62 -437.22 -429.82 -426.13 -416.52 -409.13 -406.17 -399.52 -392.87 -385.47 -378.08 -374.38 -370.69 -363.29 -358.86 -347.78 -344.09 -336.69 -329.29 -321.9">KR85 Chicken farm 2014</text>
<text transform="translate(995.6 766.03) rotate(331.84)" y="4.12" x="-454.25 -445.38 -435.78 -428.38 -420.98 -417.29 -413.59 -406.2 -402.5 -395.11 -386.23 -377.36 -373.67 -366.27 -362.58 -355.18 -347.78 -340.39 -332.99 -329.29 -321.9">KR79 Int_PS 1 2017.06</text>
<text transform="translate(995.6 766.03) rotate(335.43)" y="4.12" x="-464.6 -455.73 -446.12 -438.73 -431.33 -427.63 -423.94 -416.54 -412.85 -405.45 -395.11 -386.23 -377.36 -373.67 -366.27 -362.58 -355.18 -347.78 -340.39 -332.99 -329.29 -321.9">KR74 Int_GPS 2 2017.05</text>
<text transform="translate(995.6 766.03) rotate(339.03)" y="4.12" x="-464.6 -455.73 -446.12 -438.73 -431.33 -427.63 -423.94 -416.54 -412.85 -405.45 -395.11 -386.23 -377.36 -373.67 -366.27 -362.58 -355.18 -347.78 -340.39 -332.99 -329.29 -321.9">KR68 Int_GPS 2 2017.05</text>
<text transform="translate(995.6 766.03) rotate(342.62)" y="4.12" x="-464.6 -455.73 -446.12 -438.73 -431.33 -427.63 -423.94 -416.54 -412.85 -405.45 -395.11 -386.23 -377.36 -373.67 -366.27 -362.58 -355.18 -347.78 -340.39 -332.99 -329.29 -321.9">KR59 Int_GPS 2 2017.05</text>
<text transform="translate(995.6 766.03) rotate(346.21)" y="4.12" x="-445.34 -436.47 -426.87 -419.47 -412.07 -408.38 -398.77 -391.38 -384.73 -378.08 -374.38 -370.69 -363.29 -358.86 -347.78 -344.09 -336.69 -329.29 -321.9">KR84 Duck farm 2014</text>
<text transform="translate(995.6 766.03) rotate(349.81)" y="4.12" x="-464.6 -455.73 -446.12 -438.73 -431.33 -427.63 -423.94 -416.54 -412.85 -405.45 -395.11 -386.23 -377.36 -373.67 -366.27 -362.58 -355.18 -347.78 -340.39 -332.99 -329.29 -321.9">KR69 Int_GPS 2 2017.05</text>
<text transform="translate(995.6 766.03) rotate(353.4)" y="4.12" x="-464.6 -455.73 -446.12 -438.73 -431.33 -427.63 -423.94 -416.54 -412.85 -405.45 -395.11 -386.23 -377.36 -373.67 -366.27 -362.58 -355.18 -347.78 -340.39 -332.99 -329.29 -321.9">KR73 Int_GPS 2 2017.05</text>
<text transform="translate(995.6 766.03) rotate(356.99)" y="4.12" x="-464.6 -455.73 -446.12 -438.73 -431.33 -427.63 -423.94 -416.54 -412.85 -405.45 -395.11 -386.23 -377.36 -373.67 -366.27 -362.58 -355.18 -347.78 -340.39 -332.99 -329.29 -321.9">KR63 Int_GPS 2 2017.05</text>
<text transform="translate(995.6 766.03) rotate(360.58)" y="4.12" x="-464.6 -455.73 -446.12 -438.73 -431.33 -427.63 -423.94 -416.54 -412.85 -405.45 -395.11 -386.23 -377.36 -373.67 -366.27 -362.58 -355.18 -347.78 -340.39 -332.99 -329.29 -321.9">KR67 Int_GPS 2 2017.05</text>
<text transform="translate(995.6 766.03) rotate(364.18)" y="4.12" x="-464.6 -455.73 -446.12 -438.73 -431.33 -427.63 -423.94 -416.54 -412.85 -405.45 -395.11 -386.23 -377.36 -373.67 -366.27 -362.58 -355.18 -347.78 -340.39 -332.99 -329.29 -321.9">KR65 Int_GPS 2 2017.05</text>
<text transform="translate(995.6 766.03) rotate(367.77)" y="4.12" x="-467.54 -458.67 -449.07 -441.67 -434.27 -430.58 -426.88 -419.48 -415.79 -408.39 -400.27 -392.87 -388.44 -377.36 -373.67 -366.27 -362.58 -355.18 -347.78 -340.39 -332.99 -329.29 -321.9">KR78 Int_Farm 3 2017.07</text>
<text transform="translate(995.6 766.03) rotate(371.36)" y="4.12" x="-454.25 -445.38 -435.78 -428.38 -420.98 -417.29 -413.59 -406.2 -402.5 -395.11 -386.23 -377.36 -373.67 -366.27 -362.58 -355.18 -347.78 -340.39 -332.99 -329.29 -321.9">KR95 Int_PS 2 2017.05</text>
</g>
<g id="dslabels" font-family="'Liberation Serif', serif" font-size="21" fill="#5e5e5e" style="font-variant-ligatures:none">
<text transform="translate(486.1 471.32) rotate(300.05)" x="-157.87 -143.86 -126.37 -121.71 -110.03 -98.35 -86.67 -82 -71.5 -61 -49.32 -38.82 -34.16 -22.48">Aminoglycoside</text>
<text transform="translate(464.67 458.93) rotate(300.05)" x="-145.06 -131.06 -119.38 -114.71 -103.03 -91.35 -79.68 -68 -56.32 -38.82 -34.16 -22.48">Sulphonamide</text>
<text transform="translate(443.25 446.54) rotate(300.05)" x="-134.48 -121.65 -114.66 -110 -92.5 -80.82 -74.99 -63.31 -51.63 -39.95 -32.96 -28.29">Trimethoprim</text>
<text transform="translate(421.82 434.14) rotate(300.05)" x="-122.84 -108.84 -97.16 -91.32 -79.64 -72.65 -67.99 -56.31 -45.81 -39.97 -28.29">Beta-lactam</text>
<text transform="translate(400.4 421.75) rotate(300.05)" x="-124 -111.18 -99.5 -93.66 -86.67 -74.99 -64.49 -53.99 -43.49 -38.82 -34.16 -22.48">Tetracycline</text>
<text transform="translate(378.98 409.36) rotate(300.05)" x="-91.35 -77.35 -65.67 -53.99 -42.31 -37.64 -27.14 -15.47">Phenicol</text>
<text transform="translate(357.98 397.22) rotate(300.05)" x="-175.36 -159.03 -148.53 -141.54 -129.86 -119.36 -107.68 -101.84 -84.35 -72.67 -66.84 -55.16 -49.32 -44.66 -32.98 -21.3">Gyrase mutations</text>
</g>
<g id="romans" font-family="'Liberation Serif', serif" font-weight="bold" font-size="28" fill="#ff0000" text-anchor="middle">
<text x="815.8" y="613.87">I</text>
<text x="897.8" y="561.34">II</text>
<text x="950.9" y="540.84">III</text>
<text x="1139.6" y="585.4">IV</text>
<text x="1223.8" y="707.86">VI</text>
<text x="1233" y="772.28">V</text>
<text x="1213.9" y="850.17">VII</text>
<text x="1156.8" y="937.99">VIII</text>
<text x="1059.7" y="999.32">IX</text>
<text x="761.2" y="927.69">X</text>
</g>
<g id="scale">
<path d="M157.6 199.98H244.9M157.6 195.78V204.18M244.9 195.78V204.18M201.3 197.38V199.98" stroke="#333" stroke-width="1" fill="none"/>
<text font-family="'Liberation Serif', serif" font-size="20" fill="#555" y="206.25" x="4.6 16.82 23.48 34.6 45.72 51.28 61.28 71.28 82.4 86.85 97.97 103.53 109.08 120.21 125.76">Tree scale: 0.1</text>
</g>
<g id="legend">
<rect x="41.1" y="254.75" width="238.7" height="172.36" fill="#fff" stroke="#eee" stroke-width="1"/>
<text font-family="'Liberation Serif', serif" font-size="21.6" fill="#111" y="278.25" x="48.7 63.97 69.06 76.69 89.42 94.51 107.25 119.98 131.43 144.17 150.53 163.27 176 188.74 201.47 207.84 220.57 228.2 240.93 247.3 252.38 257.47">Virulence gene profile</text>
<path d="M45.5 290.89H275.6" stroke="#555" stroke-width="1"/>
<rect x="48.3" y="300.91" width="28.6" height="28.37" fill="#ff0000" stroke="#333" stroke-width="0.6"/>
<text font-family="'Liberation Serif', serif" font-size="22" fill="#555" y="321.88" x="91.2 105.87 113.2 125.44 131.55 136.44 141.32 153.56 159.67">Profile 1</text>
<rect x="48.3" y="344.07" width="28.6" height="28.37" fill="#008000" stroke="#333" stroke-width="0.6"/>
<text font-family="'Liberation Serif', serif" font-size="22" fill="#555" y="365.04" x="91.2 105.87 113.2 125.44 131.55 136.44 141.32 153.56 159.67">Profile 2</text>
<rect x="48.3" y="387.04" width="28.6" height="28.37" fill="#0000ff" stroke="#333" stroke-width="0.6"/>
<text font-family="'Liberation Serif', serif" font-size="22" fill="#555" y="408.01" x="91.2 105.87 113.2 125.44 131.55 136.44 141.32 153.56 159.67">Profile 3</text>
</g>
<path d="M0 0H1770V1533.56H0ZM8.4 15.54V1518.91H1746.7V15.54Z" fill="#fff" fill-rule="evenodd"/>
</svg>
</body></html>
